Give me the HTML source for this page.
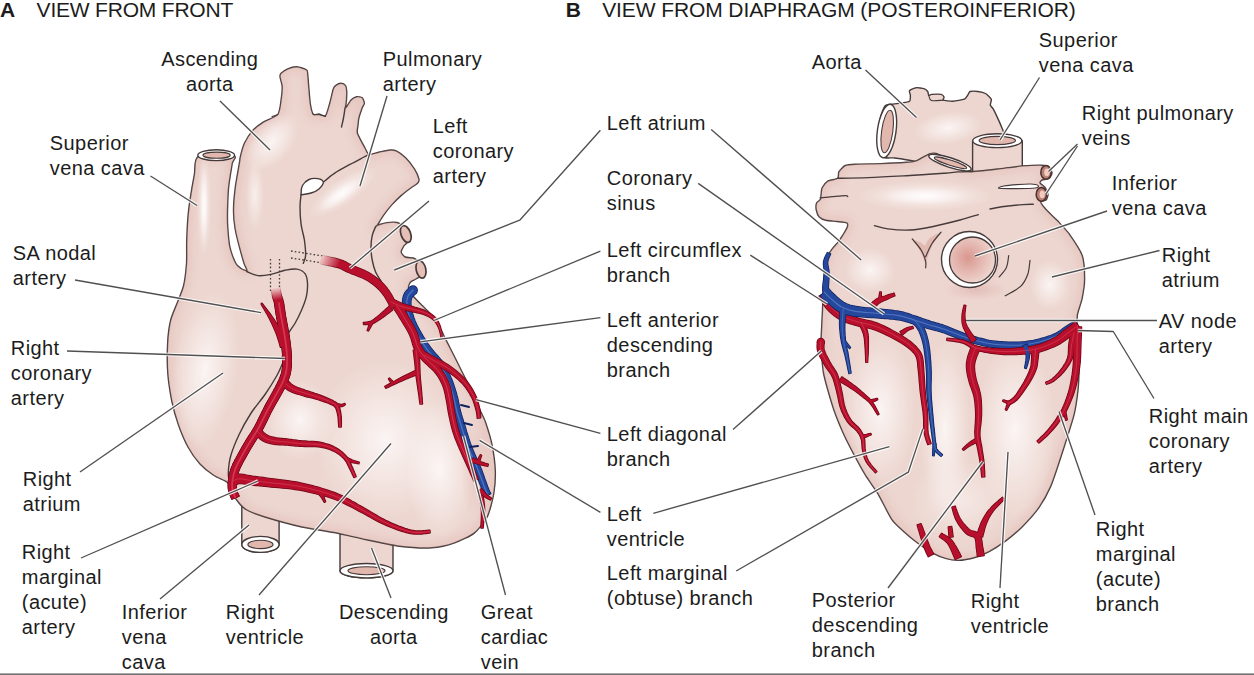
<!DOCTYPE html>
<html><head><meta charset="utf-8"><style>
html,body{margin:0;padding:0;background:#fff;width:1254px;height:675px;overflow:hidden}
svg{display:block}
.t text{font-family:"Liberation Sans",sans-serif;font-size:20px;letter-spacing:0.42px;fill:#1c1c1c}
.t text.b{font-weight:bold}
.t text.h{letter-spacing:-0.2px;font-size:21px}
.t text.b{font-size:21px}
</style></head><body>
<svg width="1254" height="675" viewBox="0 0 1254 675">
<rect x="0" y="673.4" width="1254" height="1.6" fill="#727272"/>
<path d="M241.8,495 L241.8,544.4 A18.6,8.0 0 0 0 279.1,544.4 L279.1,495 Z" fill="#edd6d0" stroke="#463a3a" stroke-width="1.4"/>
<ellipse cx="260.45" cy="544.4" rx="18.6" ry="8.0" fill="#fff" stroke="#463a3a" stroke-width="1.4"/>
<ellipse cx="260.45" cy="544.4" rx="12.6" ry="4.2" fill="#e2b8ae" stroke="#463a3a" stroke-width="1.1"/>
<path d="M340,525 L340,570.7 A26.5,7.2 0 0 0 393,570.7 L393,525 Z" fill="#edd6d0" stroke="#463a3a" stroke-width="1.4"/>
<ellipse cx="366.5" cy="570.7" rx="26.5" ry="7.2" fill="#fff" stroke="#463a3a" stroke-width="1.4"/>
<ellipse cx="366.5" cy="570.7" rx="18.5" ry="4" fill="#e2b8ae" stroke="#463a3a" stroke-width="1.1"/>
<path d="M198.3,156.5 C193.7,158.6 195.3,169.7 194.4,174.4 C193.5,179.1 191.3,191.5 190.5,196.7 C189.7,201.9 188.2,213.7 187.8,218.9 C187.4,224.1 186.9,235.9 186.7,241.1 C186.5,246.3 186.9,258.5 186.5,263.7 C186.1,268.9 184.6,281.5 183.5,286.0 C182.4,290.5 179.0,298.2 177.5,302.2 C176.0,306.2 171.9,315.2 170.7,320.0 C169.5,324.8 167.9,337.5 167.6,343.7 C167.3,349.9 167.3,366.6 167.8,373.3 C168.3,380.0 170.6,395.0 171.8,401.0 C173.0,407.0 176.6,419.6 178.5,425.0 C180.4,430.4 185.5,442.4 188.0,447.0 C190.5,451.6 197.0,460.7 200.0,464.0 C203.0,467.3 210.8,473.4 214.0,475.5 C217.2,477.6 225.1,480.5 227.2,482.2 C229.3,483.9 231.0,488.0 232.0,490.0 C233.0,492.0 234.4,496.7 236.0,499.0 C237.6,501.3 242.6,507.4 246.0,509.5 C249.4,511.6 258.5,515.0 265.0,517.0 C271.5,519.0 293.9,525.2 302.0,527.0 C310.1,528.8 326.5,531.0 334.0,532.5 C341.5,534.0 359.0,538.1 366.6,539.7 C374.2,541.3 391.6,545.3 399.2,546.2 C406.8,547.1 425.3,548.2 431.8,547.8 C438.3,547.4 449.7,544.6 454.6,542.9 C459.5,541.2 470.4,536.1 474.2,533.1 C478.0,530.1 484.9,521.5 487.2,516.9 C489.5,512.3 492.8,499.3 493.7,494.0 C494.6,488.7 495.5,476.9 495.3,471.2 C495.1,465.5 493.2,450.9 492.1,445.2 C491.0,439.5 487.0,426.5 485.6,422.4 C484.2,418.3 481.4,413.3 480.0,410.0 C478.6,406.7 474.9,397.8 473.3,394.4 C471.7,391.0 468.5,384.7 466.7,381.1 C464.9,377.5 459.6,366.9 457.8,363.3 C456.0,359.7 452.7,353.1 451.1,350.0 C449.5,346.9 445.7,339.3 444.4,336.7 C443.1,334.1 441.3,330.1 440.0,327.8 C438.7,325.5 435.4,319.3 433.3,316.7 C431.2,314.1 424.6,308.0 422.2,305.6 C419.8,303.2 414.6,298.1 413.0,296.0 C411.4,293.9 408.8,289.6 408.5,288.0 C408.2,286.4 409.6,283.1 410.5,282.0 C411.4,280.9 414.8,279.7 416.0,279.0 C417.2,278.3 419.8,277.1 420.5,276.0 C421.2,274.9 422.1,271.5 422.0,270.0 C421.9,268.5 420.9,264.3 420.0,263.0 C419.1,261.7 416.1,259.2 414.4,258.5 C412.6,257.8 406.6,257.8 405.0,257.0 C403.4,256.2 401.3,253.2 401.1,252.0 C400.9,250.8 402.8,247.7 403.5,246.5 C404.2,245.3 407.0,243.3 407.5,242.0 C408.0,240.7 407.9,236.8 407.5,235.0 C407.1,233.2 405.2,228.0 404.0,226.5 C402.8,225.0 399.0,223.0 397.0,222.5 C395.0,222.0 389.2,222.3 387.0,222.6 C384.8,222.9 379.3,224.5 378.0,225.0 C376.7,225.5 375.6,226.8 375.6,226.7 C375.6,226.6 376.9,225.7 377.8,224.4 C378.7,223.1 381.6,217.9 383.3,215.6 C385.0,213.3 390.1,206.7 392.2,204.4 C394.3,202.1 398.9,197.5 401.1,195.6 C403.3,193.7 409.2,189.2 411.1,187.8 C413.0,186.4 416.6,184.3 417.5,183.3 C418.4,182.3 419.3,180.7 418.9,179.0 C418.5,177.3 416.0,171.4 414.4,168.9 C412.8,166.4 407.7,159.9 405.6,157.8 C403.5,155.7 398.5,152.0 396.7,151.1 C394.9,150.2 392.1,149.9 390.0,150.0 C387.9,150.1 381.3,151.7 378.9,152.2 C376.4,152.7 370.6,155.0 369.0,154.5 C367.4,154.0 366.3,150.4 365.0,148.0 C363.7,145.6 358.3,136.0 357.5,133.5 C356.7,131.0 357.6,128.5 357.8,126.7 C358.0,124.9 358.4,120.0 358.9,117.8 C359.4,115.6 361.6,109.5 362.2,107.8 C362.8,106.1 364.4,104.5 364.4,103.3 C364.4,102.1 363.1,98.6 362.2,97.8 C361.3,97.0 358.0,96.4 356.7,96.7 C355.4,97.0 352.4,98.7 351.1,100.0 C349.8,101.3 346.1,107.8 345.6,107.8 C345.1,107.8 346.4,101.9 346.5,100.0 C346.6,98.1 346.8,92.8 346.7,91.1 C346.6,89.4 346.3,86.5 345.6,85.6 C344.9,84.7 342.3,83.3 341.1,83.3 C339.9,83.3 336.5,84.9 335.6,85.6 C334.7,86.3 334.0,87.0 333.3,88.9 C332.6,90.8 330.9,99.1 330.0,102.2 C329.1,105.3 326.9,114.2 325.6,115.6 C324.3,117.0 320.4,114.1 319.0,114.0 C317.6,113.9 314.3,115.5 313.3,114.4 C312.3,113.3 310.9,107.4 310.4,104.4 C309.9,101.4 309.2,92.3 308.9,88.9 C308.6,85.5 308.1,77.8 307.8,75.6 C307.5,73.4 308.0,71.0 306.7,70.0 C305.4,69.0 298.9,66.8 296.7,66.7 C294.5,66.6 289.6,68.1 287.8,68.9 C286.0,69.7 282.0,72.4 281.1,73.3 C280.2,74.2 279.9,75.1 280.0,76.7 C280.1,78.3 282.1,84.0 282.2,86.7 C282.3,89.4 281.6,96.8 281.1,100.0 C280.6,103.2 279.9,111.8 277.8,114.4 C275.7,117.0 266.3,120.3 263.3,122.2 C260.3,124.1 254.4,128.6 252.2,131.1 C250.0,133.6 245.8,140.4 244.4,143.3 C243.0,146.2 241.1,153.6 240.5,156.0 C239.9,158.4 239.9,160.0 239.3,163.7 C238.7,167.4 236.0,181.9 235.3,187.4 C234.6,192.9 233.5,206.3 233.5,211.0 C233.5,215.7 234.3,223.8 235.0,228.0 C235.7,232.2 238.2,242.5 239.3,246.6 C240.4,250.7 243.1,260.4 244.0,263.2 C244.9,266.0 247.3,269.9 247.0,270.5 C246.7,271.1 242.3,269.4 241.0,268.5 C239.7,267.6 237.0,265.8 235.7,263.2 C234.4,260.6 230.7,250.7 229.8,246.6 C228.9,242.5 228.1,232.2 227.8,228.0 C227.5,223.8 227.4,215.7 227.5,211.0 C227.6,206.3 228.1,192.9 228.6,187.4 C229.1,181.9 231.6,167.4 232.2,163.7 C232.8,160.0 237.8,156.8 233.8,156.0 C229.8,155.2 202.9,154.4 198.3,156.5Z" fill="#edd6d0" stroke="#463a3a" stroke-width="1.4" stroke-linejoin="round"/>
<defs>
<radialGradient id="hg" cx="50%" cy="50%" r="50%"><stop offset="0" stop-color="#fff" stop-opacity="0.75"/><stop offset="1" stop-color="#fff" stop-opacity="0"/></radialGradient>
<radialGradient id="sh" cx="50%" cy="50%" r="50%"><stop offset="0" stop-color="#d9a8a0" stop-opacity="0.5"/><stop offset="1" stop-color="#d9a8a0" stop-opacity="0"/></radialGradient>
<clipPath id="clipA"><path d="M198.3,156.5 C193.7,158.6 195.3,169.7 194.4,174.4 C193.5,179.1 191.3,191.5 190.5,196.7 C189.7,201.9 188.2,213.7 187.8,218.9 C187.4,224.1 186.9,235.9 186.7,241.1 C186.5,246.3 186.9,258.5 186.5,263.7 C186.1,268.9 184.6,281.5 183.5,286.0 C182.4,290.5 179.0,298.2 177.5,302.2 C176.0,306.2 171.9,315.2 170.7,320.0 C169.5,324.8 167.9,337.5 167.6,343.7 C167.3,349.9 167.3,366.6 167.8,373.3 C168.3,380.0 170.6,395.0 171.8,401.0 C173.0,407.0 176.6,419.6 178.5,425.0 C180.4,430.4 185.5,442.4 188.0,447.0 C190.5,451.6 197.0,460.7 200.0,464.0 C203.0,467.3 210.8,473.4 214.0,475.5 C217.2,477.6 225.1,480.5 227.2,482.2 C229.3,483.9 231.0,488.0 232.0,490.0 C233.0,492.0 234.4,496.7 236.0,499.0 C237.6,501.3 242.6,507.4 246.0,509.5 C249.4,511.6 258.5,515.0 265.0,517.0 C271.5,519.0 293.9,525.2 302.0,527.0 C310.1,528.8 326.5,531.0 334.0,532.5 C341.5,534.0 359.0,538.1 366.6,539.7 C374.2,541.3 391.6,545.3 399.2,546.2 C406.8,547.1 425.3,548.2 431.8,547.8 C438.3,547.4 449.7,544.6 454.6,542.9 C459.5,541.2 470.4,536.1 474.2,533.1 C478.0,530.1 484.9,521.5 487.2,516.9 C489.5,512.3 492.8,499.3 493.7,494.0 C494.6,488.7 495.5,476.9 495.3,471.2 C495.1,465.5 493.2,450.9 492.1,445.2 C491.0,439.5 487.0,426.5 485.6,422.4 C484.2,418.3 481.4,413.3 480.0,410.0 C478.6,406.7 474.9,397.8 473.3,394.4 C471.7,391.0 468.5,384.7 466.7,381.1 C464.9,377.5 459.6,366.9 457.8,363.3 C456.0,359.7 452.7,353.1 451.1,350.0 C449.5,346.9 445.7,339.3 444.4,336.7 C443.1,334.1 441.3,330.1 440.0,327.8 C438.7,325.5 435.4,319.3 433.3,316.7 C431.2,314.1 424.6,308.0 422.2,305.6 C419.8,303.2 414.6,298.1 413.0,296.0 C411.4,293.9 408.8,289.6 408.5,288.0 C408.2,286.4 409.6,283.1 410.5,282.0 C411.4,280.9 414.8,279.7 416.0,279.0 C417.2,278.3 419.8,277.1 420.5,276.0 C421.2,274.9 422.1,271.5 422.0,270.0 C421.9,268.5 420.9,264.3 420.0,263.0 C419.1,261.7 416.1,259.2 414.4,258.5 C412.6,257.8 406.6,257.8 405.0,257.0 C403.4,256.2 401.3,253.2 401.1,252.0 C400.9,250.8 402.8,247.7 403.5,246.5 C404.2,245.3 407.0,243.3 407.5,242.0 C408.0,240.7 407.9,236.8 407.5,235.0 C407.1,233.2 405.2,228.0 404.0,226.5 C402.8,225.0 399.0,223.0 397.0,222.5 C395.0,222.0 389.2,222.3 387.0,222.6 C384.8,222.9 379.3,224.5 378.0,225.0 C376.7,225.5 375.6,226.8 375.6,226.7 C375.6,226.6 376.9,225.7 377.8,224.4 C378.7,223.1 381.6,217.9 383.3,215.6 C385.0,213.3 390.1,206.7 392.2,204.4 C394.3,202.1 398.9,197.5 401.1,195.6 C403.3,193.7 409.2,189.2 411.1,187.8 C413.0,186.4 416.6,184.3 417.5,183.3 C418.4,182.3 419.3,180.7 418.9,179.0 C418.5,177.3 416.0,171.4 414.4,168.9 C412.8,166.4 407.7,159.9 405.6,157.8 C403.5,155.7 398.5,152.0 396.7,151.1 C394.9,150.2 392.1,149.9 390.0,150.0 C387.9,150.1 381.3,151.7 378.9,152.2 C376.4,152.7 370.6,155.0 369.0,154.5 C367.4,154.0 366.3,150.4 365.0,148.0 C363.7,145.6 358.3,136.0 357.5,133.5 C356.7,131.0 357.6,128.5 357.8,126.7 C358.0,124.9 358.4,120.0 358.9,117.8 C359.4,115.6 361.6,109.5 362.2,107.8 C362.8,106.1 364.4,104.5 364.4,103.3 C364.4,102.1 363.1,98.6 362.2,97.8 C361.3,97.0 358.0,96.4 356.7,96.7 C355.4,97.0 352.4,98.7 351.1,100.0 C349.8,101.3 346.1,107.8 345.6,107.8 C345.1,107.8 346.4,101.9 346.5,100.0 C346.6,98.1 346.8,92.8 346.7,91.1 C346.6,89.4 346.3,86.5 345.6,85.6 C344.9,84.7 342.3,83.3 341.1,83.3 C339.9,83.3 336.5,84.9 335.6,85.6 C334.7,86.3 334.0,87.0 333.3,88.9 C332.6,90.8 330.9,99.1 330.0,102.2 C329.1,105.3 326.9,114.2 325.6,115.6 C324.3,117.0 320.4,114.1 319.0,114.0 C317.6,113.9 314.3,115.5 313.3,114.4 C312.3,113.3 310.9,107.4 310.4,104.4 C309.9,101.4 309.2,92.3 308.9,88.9 C308.6,85.5 308.1,77.8 307.8,75.6 C307.5,73.4 308.0,71.0 306.7,70.0 C305.4,69.0 298.9,66.8 296.7,66.7 C294.5,66.6 289.6,68.1 287.8,68.9 C286.0,69.7 282.0,72.4 281.1,73.3 C280.2,74.2 279.9,75.1 280.0,76.7 C280.1,78.3 282.1,84.0 282.2,86.7 C282.3,89.4 281.6,96.8 281.1,100.0 C280.6,103.2 279.9,111.8 277.8,114.4 C275.7,117.0 266.3,120.3 263.3,122.2 C260.3,124.1 254.4,128.6 252.2,131.1 C250.0,133.6 245.8,140.4 244.4,143.3 C243.0,146.2 241.1,153.6 240.5,156.0 C239.9,158.4 239.9,160.0 239.3,163.7 C238.7,167.4 236.0,181.9 235.3,187.4 C234.6,192.9 233.5,206.3 233.5,211.0 C233.5,215.7 234.3,223.8 235.0,228.0 C235.7,232.2 238.2,242.5 239.3,246.6 C240.4,250.7 243.1,260.4 244.0,263.2 C244.9,266.0 247.3,269.9 247.0,270.5 C246.7,271.1 242.3,269.4 241.0,268.5 C239.7,267.6 237.0,265.8 235.7,263.2 C234.4,260.6 230.7,250.7 229.8,246.6 C228.9,242.5 228.1,232.2 227.8,228.0 C227.5,223.8 227.4,215.7 227.5,211.0 C227.6,206.3 228.1,192.9 228.6,187.4 C229.1,181.9 231.6,167.4 232.2,163.7 C232.8,160.0 237.8,156.8 233.8,156.0 C229.8,155.2 202.9,154.4 198.3,156.5Z"/></clipPath>
</defs>
<filter id="blur4" x="-10%" y="-10%" width="120%" height="120%"><feGaussianBlur stdDeviation="4"/></filter>
<g clip-path="url(#clipA)">
<path d="M198.3,156.5 C193.7,158.6 195.3,169.7 194.4,174.4 C193.5,179.1 191.3,191.5 190.5,196.7 C189.7,201.9 188.2,213.7 187.8,218.9 C187.4,224.1 186.9,235.9 186.7,241.1 C186.5,246.3 186.9,258.5 186.5,263.7 C186.1,268.9 184.6,281.5 183.5,286.0 C182.4,290.5 179.0,298.2 177.5,302.2 C176.0,306.2 171.9,315.2 170.7,320.0 C169.5,324.8 167.9,337.5 167.6,343.7 C167.3,349.9 167.3,366.6 167.8,373.3 C168.3,380.0 170.6,395.0 171.8,401.0 C173.0,407.0 176.6,419.6 178.5,425.0 C180.4,430.4 185.5,442.4 188.0,447.0 C190.5,451.6 197.0,460.7 200.0,464.0 C203.0,467.3 210.8,473.4 214.0,475.5 C217.2,477.6 225.1,480.5 227.2,482.2 C229.3,483.9 231.0,488.0 232.0,490.0 C233.0,492.0 234.4,496.7 236.0,499.0 C237.6,501.3 242.6,507.4 246.0,509.5 C249.4,511.6 258.5,515.0 265.0,517.0 C271.5,519.0 293.9,525.2 302.0,527.0 C310.1,528.8 326.5,531.0 334.0,532.5 C341.5,534.0 359.0,538.1 366.6,539.7 C374.2,541.3 391.6,545.3 399.2,546.2 C406.8,547.1 425.3,548.2 431.8,547.8 C438.3,547.4 449.7,544.6 454.6,542.9 C459.5,541.2 470.4,536.1 474.2,533.1 C478.0,530.1 484.9,521.5 487.2,516.9 C489.5,512.3 492.8,499.3 493.7,494.0 C494.6,488.7 495.5,476.9 495.3,471.2 C495.1,465.5 493.2,450.9 492.1,445.2 C491.0,439.5 487.0,426.5 485.6,422.4 C484.2,418.3 481.4,413.3 480.0,410.0 C478.6,406.7 474.9,397.8 473.3,394.4 C471.7,391.0 468.5,384.7 466.7,381.1 C464.9,377.5 459.6,366.9 457.8,363.3 C456.0,359.7 452.7,353.1 451.1,350.0 C449.5,346.9 445.7,339.3 444.4,336.7 C443.1,334.1 441.3,330.1 440.0,327.8 C438.7,325.5 435.4,319.3 433.3,316.7 C431.2,314.1 424.6,308.0 422.2,305.6 C419.8,303.2 414.6,298.1 413.0,296.0 C411.4,293.9 408.8,289.6 408.5,288.0 C408.2,286.4 409.6,283.1 410.5,282.0 C411.4,280.9 414.8,279.7 416.0,279.0 C417.2,278.3 419.8,277.1 420.5,276.0 C421.2,274.9 422.1,271.5 422.0,270.0 C421.9,268.5 420.9,264.3 420.0,263.0 C419.1,261.7 416.1,259.2 414.4,258.5 C412.6,257.8 406.6,257.8 405.0,257.0 C403.4,256.2 401.3,253.2 401.1,252.0 C400.9,250.8 402.8,247.7 403.5,246.5 C404.2,245.3 407.0,243.3 407.5,242.0 C408.0,240.7 407.9,236.8 407.5,235.0 C407.1,233.2 405.2,228.0 404.0,226.5 C402.8,225.0 399.0,223.0 397.0,222.5 C395.0,222.0 389.2,222.3 387.0,222.6 C384.8,222.9 379.3,224.5 378.0,225.0 C376.7,225.5 375.6,226.8 375.6,226.7 C375.6,226.6 376.9,225.7 377.8,224.4 C378.7,223.1 381.6,217.9 383.3,215.6 C385.0,213.3 390.1,206.7 392.2,204.4 C394.3,202.1 398.9,197.5 401.1,195.6 C403.3,193.7 409.2,189.2 411.1,187.8 C413.0,186.4 416.6,184.3 417.5,183.3 C418.4,182.3 419.3,180.7 418.9,179.0 C418.5,177.3 416.0,171.4 414.4,168.9 C412.8,166.4 407.7,159.9 405.6,157.8 C403.5,155.7 398.5,152.0 396.7,151.1 C394.9,150.2 392.1,149.9 390.0,150.0 C387.9,150.1 381.3,151.7 378.9,152.2 C376.4,152.7 370.6,155.0 369.0,154.5 C367.4,154.0 366.3,150.4 365.0,148.0 C363.7,145.6 358.3,136.0 357.5,133.5 C356.7,131.0 357.6,128.5 357.8,126.7 C358.0,124.9 358.4,120.0 358.9,117.8 C359.4,115.6 361.6,109.5 362.2,107.8 C362.8,106.1 364.4,104.5 364.4,103.3 C364.4,102.1 363.1,98.6 362.2,97.8 C361.3,97.0 358.0,96.4 356.7,96.7 C355.4,97.0 352.4,98.7 351.1,100.0 C349.8,101.3 346.1,107.8 345.6,107.8 C345.1,107.8 346.4,101.9 346.5,100.0 C346.6,98.1 346.8,92.8 346.7,91.1 C346.6,89.4 346.3,86.5 345.6,85.6 C344.9,84.7 342.3,83.3 341.1,83.3 C339.9,83.3 336.5,84.9 335.6,85.6 C334.7,86.3 334.0,87.0 333.3,88.9 C332.6,90.8 330.9,99.1 330.0,102.2 C329.1,105.3 326.9,114.2 325.6,115.6 C324.3,117.0 320.4,114.1 319.0,114.0 C317.6,113.9 314.3,115.5 313.3,114.4 C312.3,113.3 310.9,107.4 310.4,104.4 C309.9,101.4 309.2,92.3 308.9,88.9 C308.6,85.5 308.1,77.8 307.8,75.6 C307.5,73.4 308.0,71.0 306.7,70.0 C305.4,69.0 298.9,66.8 296.7,66.7 C294.5,66.6 289.6,68.1 287.8,68.9 C286.0,69.7 282.0,72.4 281.1,73.3 C280.2,74.2 279.9,75.1 280.0,76.7 C280.1,78.3 282.1,84.0 282.2,86.7 C282.3,89.4 281.6,96.8 281.1,100.0 C280.6,103.2 279.9,111.8 277.8,114.4 C275.7,117.0 266.3,120.3 263.3,122.2 C260.3,124.1 254.4,128.6 252.2,131.1 C250.0,133.6 245.8,140.4 244.4,143.3 C243.0,146.2 241.1,153.6 240.5,156.0 C239.9,158.4 239.9,160.0 239.3,163.7 C238.7,167.4 236.0,181.9 235.3,187.4 C234.6,192.9 233.5,206.3 233.5,211.0 C233.5,215.7 234.3,223.8 235.0,228.0 C235.7,232.2 238.2,242.5 239.3,246.6 C240.4,250.7 243.1,260.4 244.0,263.2 C244.9,266.0 247.3,269.9 247.0,270.5 C246.7,271.1 242.3,269.4 241.0,268.5 C239.7,267.6 237.0,265.8 235.7,263.2 C234.4,260.6 230.7,250.7 229.8,246.6 C228.9,242.5 228.1,232.2 227.8,228.0 C227.5,223.8 227.4,215.7 227.5,211.0 C227.6,206.3 228.1,192.9 228.6,187.4 C229.1,181.9 231.6,167.4 232.2,163.7 C232.8,160.0 237.8,156.8 233.8,156.0 C229.8,155.2 202.9,154.4 198.3,156.5Z" fill="none" stroke="#d8a69e" stroke-width="10" opacity="0.3" filter="url(#blur4)"/>
<ellipse cx="272" cy="142" rx="20" ry="34" fill="url(#hg)" transform="rotate(40 272 142)"/>
<ellipse cx="255" cy="195" rx="9" ry="35" fill="url(#hg)" opacity="0.8"/>
<ellipse cx="204" cy="205" rx="7" ry="52" fill="url(#hg)"/>
<ellipse cx="204" cy="205" rx="4" ry="40" fill="url(#hg)"/>
<ellipse cx="343" cy="192" rx="13" ry="40" fill="url(#hg)" transform="rotate(55 343 192)"/>
<ellipse cx="340" cy="195" rx="8" ry="26" fill="url(#hg)" transform="rotate(55 340 195)"/>
<ellipse cx="205" cy="370" rx="32" ry="80" fill="url(#hg)" transform="rotate(8 205 370)"/>
<ellipse cx="385" cy="440" rx="70" ry="80" fill="url(#hg)"/>
<ellipse cx="300" cy="420" rx="35" ry="40" fill="url(#hg)"/>
<ellipse cx="440" cy="470" rx="35" ry="70" fill="url(#hg)"/>
<ellipse cx="478" cy="470" rx="18" ry="50" fill="url(#sh)" opacity="0.6"/>
</g>
<ellipse cx="216.2" cy="155.2" rx="18.4" ry="5.4" fill="#fff" stroke="#463a3a" stroke-width="1.4"/>
<ellipse cx="216.6" cy="155.2" rx="13.6" ry="3.1" fill="#e2b8ae" stroke="#463a3a" stroke-width="1.1"/>
<path d="M369.0,154.5 C368.2,154.9 367.2,155.3 364.0,157.0 C360.8,158.7 354.9,161.7 350.0,164.4 C345.1,167.1 338.8,170.3 334.4,173.3 C329.9,176.3 325.1,180.7 323.3,182.2" fill="none" stroke="#463a3a" stroke-width="1.4" stroke-linecap="round" />
<path d="M301.1,194.0 C301.0,192.5 301.2,187.9 302.5,185.5 C303.8,183.1 306.4,180.7 309.0,179.5 C311.6,178.3 315.4,178.2 317.8,178.6 C320.2,179.0 323.1,180.5 323.3,182.2 C323.5,183.9 321.0,187.1 319.0,188.9 C317.0,190.7 313.8,192.1 311.1,193.0 C308.4,193.9 304.7,194.3 303.0,194.5 C301.3,194.7 301.2,195.5 301.1,194.0Z" fill="#fff" stroke="#463a3a" stroke-width="1.4" stroke-linejoin="round" />
<path d="M301.1,194.4 C300.9,196.4 300.0,201.7 300.0,206.7 C300.0,211.7 300.4,218.8 301.1,224.4 C301.8,230.0 303.6,234.8 304.4,240.0 C305.1,245.2 305.8,251.7 305.6,255.6 C305.4,259.5 303.7,262.0 303.3,263.3" fill="none" stroke="#463a3a" stroke-width="1.4" stroke-linecap="round" />
<path d="M246.7,271.5 C248.5,272.2 253.8,275.1 257.8,275.6 C261.8,276.1 266.3,275.3 270.8,274.4 C275.3,273.5 280.6,271.2 285.0,270.3 C289.4,269.4 293.5,268.5 296.9,269.1 C300.3,269.7 303.4,271.4 305.2,273.8 C307.0,276.2 307.3,279.5 307.5,283.3 C307.7,287.1 307.4,291.9 306.4,296.4 C305.4,300.8 303.5,305.6 301.6,310.0 C299.7,314.4 297.8,318.4 295.2,323.0 C292.6,327.6 288.5,331.9 286.3,337.8 C284.1,343.7 282.7,355.1 282.0,358.5" fill="none" stroke="#463a3a" stroke-width="1.4" stroke-linecap="round" />
<path d="M284.0,360.0 C282.8,362.6 280.1,369.8 276.9,375.5 C273.7,381.2 269.4,388.2 265.0,394.5 C260.6,400.8 255.1,406.8 250.8,413.5 C246.5,420.2 242.3,427.7 239.0,434.8 C235.7,441.9 232.5,449.7 230.7,456.0 C228.9,462.3 228.5,468.3 228.3,472.7 C228.1,477.1 229.3,480.6 229.5,482.2" fill="none" stroke="#463a3a" stroke-width="1.4" stroke-linecap="round" />
<path d="M345.0,108.0 C344.8,109.7 344.1,114.8 343.5,118.0 C342.9,121.2 341.8,125.5 341.5,127.0" fill="none" stroke="#463a3a" stroke-width="1.4" stroke-linecap="round" />
<path d="M313.3,114.4 C314.3,114.5 317.4,114.5 319.5,114.8 C321.6,115.1 324.6,116.2 325.6,116.5" fill="none" stroke="#463a3a" stroke-width="1.1" stroke-linecap="round" />
<path d="M277.8,114.4 C276.8,114.8 273.0,116.2 272.0,116.5" fill="none" stroke="#463a3a" stroke-width="1.1" stroke-linecap="round" />
<path d="M375.6,226.7 C375.0,228.2 373.0,232.2 372.2,235.6 C371.4,239.0 371.0,242.9 371.0,247.0 C371.0,251.1 371.4,255.8 372.2,260.0 C373.0,264.2 374.1,268.5 375.6,272.0 C377.1,275.5 380.1,279.5 381.0,281.0" fill="none" stroke="#463a3a" stroke-width="1.4" stroke-linecap="round" />
<ellipse cx="405.8" cy="234" rx="4.8" ry="8.8" fill="#e6c0b6" stroke="#463a3a" stroke-width="1.7" transform="rotate(-20 405.8 234)"/>
<ellipse cx="421" cy="269.5" rx="4.8" ry="8.8" fill="#e6c0b6" stroke="#463a3a" stroke-width="1.7" transform="rotate(-12 421 269.5)"/>
<line x1="291" y1="251" x2="323" y2="256" stroke="#463a3a" stroke-width="1.3" stroke-dasharray="1.6 2.2"/>
<line x1="291" y1="258" x2="323" y2="263" stroke="#463a3a" stroke-width="1.3" stroke-dasharray="1.6 2.2"/>
<line x1="270.5" y1="259" x2="270.5" y2="292" stroke="#463a3a" stroke-width="1.3" stroke-dasharray="1.6 2.2"/>
<line x1="279.5" y1="259" x2="279.5" y2="292" stroke="#463a3a" stroke-width="1.3" stroke-dasharray="1.6 2.2"/>
<defs><path id="a1" d="M410.0,287.4 409.7,287.7 409.2,288.1 408.5,288.8 407.7,289.6 406.7,290.5 405.8,291.6 404.9,292.9 404.2,294.3 403.7,295.6 403.3,296.8 403.0,298.1 402.8,299.5 402.6,301.0 402.6,302.5 402.6,304.1 402.7,305.8 403.0,307.6 403.3,309.5 403.7,311.5 404.2,313.5 404.7,315.6 405.3,317.8 406.0,319.9 406.7,321.9 407.5,323.9 408.4,325.9 409.4,327.9 410.4,329.9 411.4,331.8 412.5,333.7 413.6,335.7 414.7,337.6 415.9,339.5 417.1,341.5 418.3,343.4 419.6,345.3 420.9,347.3 422.3,349.2 423.7,351.2 425.1,353.1 426.7,355.1 428.4,357.1 430.1,359.0 431.8,360.9 433.5,362.7 435.0,364.5 436.5,366.3 437.7,368.0 438.8,369.7 439.8,371.5 440.8,373.2 441.7,375.0 442.5,376.8 443.3,378.7 444.1,380.5 444.9,382.4 445.7,384.2 446.4,386.0 447.0,387.8 447.7,389.6 448.3,391.5 448.8,393.3 449.4,395.2 450.0,397.0 450.5,398.9 450.9,400.9 451.4,402.9 451.8,404.9 452.2,406.9 452.7,409.0 453.1,410.9 453.6,412.9 454.1,414.6 454.6,416.2 455.0,417.7 455.5,419.2 456.0,420.7 456.5,422.3 457.1,424.0 457.7,426.0 458.5,428.3 459.2,430.8 460.1,433.5 461.0,436.3 461.9,439.2 462.9,442.2 463.9,445.1 464.9,447.9 466.0,450.6 467.2,453.4 468.4,456.1 469.6,458.7 470.9,461.4 472.1,464.0 473.2,466.6 474.4,469.2 475.4,471.9 476.6,474.8 477.7,477.8 478.8,480.7 479.8,483.5 480.8,486.1 481.7,488.5 482.4,490.4 483.1,492.0 483.6,493.2 484.1,494.2 484.5,494.9 484.8,495.5 485.0,495.9 485.2,496.1 485.3,496.4 490.7,493.6 490.5,493.2 490.3,492.8 490.1,492.5 489.8,492.1 489.6,491.5 489.2,490.7 488.7,489.6 488.2,488.2 487.4,486.3 486.6,484.0 485.7,481.4 484.6,478.6 483.6,475.6 482.5,472.6 481.4,469.6 480.2,466.8 479.1,464.1 477.9,461.4 476.7,458.7 475.5,456.0 474.3,453.4 473.2,450.7 472.1,448.1 471.1,445.5 470.1,442.8 469.2,440.0 468.3,437.2 467.4,434.3 466.5,431.5 465.7,428.8 465.0,426.3 464.3,424.0 463.6,421.9 463.1,420.1 462.5,418.6 462.1,417.1 461.7,415.7 461.2,414.3 460.8,412.8 460.4,411.1 459.9,409.3 459.5,407.5 459.1,405.5 458.7,403.5 458.3,401.4 457.9,399.3 457.4,397.2 456.8,395.2 456.3,393.2 455.7,391.2 455.1,389.3 454.5,387.4 453.9,385.4 453.2,383.5 452.5,381.5 451.7,379.6 450.9,377.7 450.1,375.8 449.2,373.8 448.4,371.9 447.4,369.9 446.3,367.9 445.2,365.9 443.9,363.8 442.4,361.8 440.9,359.7 439.2,357.8 437.5,355.8 435.8,353.9 434.2,352.1 432.7,350.3 431.3,348.5 429.9,346.6 428.6,344.8 427.3,342.9 426.1,341.1 424.9,339.2 423.7,337.3 422.6,335.5 421.5,333.6 420.4,331.7 419.4,329.9 418.4,328.0 417.4,326.2 416.5,324.4 415.7,322.6 414.9,320.8 414.3,319.1 413.6,317.3 413.1,315.4 412.5,313.5 412.0,311.6 411.6,309.8 411.3,308.0 411.0,306.4 410.9,305.0 410.8,303.7 410.8,302.6 410.8,301.6 410.9,300.7 411.1,299.9 411.3,299.1 411.5,298.3 411.8,297.7 412.0,297.2 412.4,296.7 412.9,296.1 413.5,295.5 414.2,294.9 414.8,294.3 415.5,293.7 416.0,293.2Z"/></defs>
<use href="#a1" fill="#0f2260" stroke="#0f2260" stroke-width="1.5" stroke-linejoin="round"/>
<circle cx="413" cy="290.3" r="4.19" fill="#0f2260" stroke="#0f2260" stroke-width="1.5"/>
<use href="#a1" fill="#25489c"/>
<circle cx="413" cy="290.3" r="4.19" fill="#25489c"/>
<path d="M413.0,290.3 C412.2,291.2 409.0,293.5 408.0,296.0 C407.0,298.5 406.4,301.3 406.8,305.4 C407.2,309.5 408.6,315.5 410.5,320.5 C412.4,325.5 415.2,330.6 418.1,335.6 C421.1,340.7 424.4,345.8 428.2,350.8 C432.0,355.9 437.4,360.9 440.8,365.9 C444.2,370.9 446.2,376.0 448.3,381.0 C450.4,386.0 451.9,390.9 453.4,396.1 C454.8,401.3 455.7,407.2 457.0,412.0 C458.3,416.8 459.2,419.2 461.0,425.0 C462.8,430.8 465.3,439.5 468.0,446.7 C470.7,453.9 474.4,460.9 477.3,468.0 C480.2,475.1 483.5,484.8 485.3,489.3 C487.1,493.8 487.6,494.1 488.0,495.0" fill="none" stroke="#5f86cf" stroke-width="1.3" stroke-linecap="round" opacity="0.7"/>
<line x1="461" y1="405" x2="469" y2="407" stroke="#0f2260" stroke-width="2" stroke-linecap="round"/>
<line x1="464" y1="423" x2="472" y2="425" stroke="#0f2260" stroke-width="2" stroke-linecap="round"/>
<line x1="470" y1="447" x2="478" y2="446" stroke="#0f2260" stroke-width="2" stroke-linecap="round"/>
<defs><linearGradient id="lcag" x1="321" y1="256" x2="340" y2="263" gradientUnits="userSpaceOnUse"><stop offset="0" stop-color="#f0d0cc"/><stop offset="1" stop-color="#b8102c"/></linearGradient><linearGradient id="lcao" x1="321" y1="256" x2="336" y2="262" gradientUnits="userSpaceOnUse"><stop offset="0" stop-color="#6a0515" stop-opacity="0"/><stop offset="1" stop-color="#6a0515"/></linearGradient><linearGradient id="rcao" x1="275" y1="288" x2="277" y2="298" gradientUnits="userSpaceOnUse"><stop offset="0" stop-color="#6a0515" stop-opacity="0"/><stop offset="1" stop-color="#6a0515"/></linearGradient>
<linearGradient id="rcag" x1="275" y1="288" x2="277" y2="300" gradientUnits="userSpaceOnUse"><stop offset="0" stop-color="#f0d0cc"/><stop offset="1" stop-color="#b8102c"/></linearGradient></defs>
<defs><path id="a2" d="M320.1,263.6 321.6,264.0 323.7,264.4 326.3,264.9 329.0,265.5 331.8,266.1 334.5,266.7 336.9,267.3 338.8,267.8 340.2,268.3 341.2,268.7 342.0,269.1 342.7,269.5 343.6,270.0 344.7,270.6 346.0,271.3 347.7,272.1 349.7,272.9 351.8,273.7 354.2,274.6 356.6,275.5 359.0,276.5 361.3,277.4 363.4,278.4 365.3,279.3 366.9,280.2 368.5,281.1 370.0,282.1 371.4,283.1 372.8,284.1 374.1,285.1 375.4,286.1 376.5,287.1 377.6,288.1 378.6,289.1 379.5,290.1 380.4,291.1 381.2,292.1 382.0,293.1 382.8,294.1 383.5,295.0 384.2,295.9 384.8,296.8 385.3,297.6 385.8,298.5 386.3,299.3 386.8,300.2 387.3,301.1 387.8,302.0 388.3,302.9 388.7,303.8 389.2,304.7 389.7,305.6 390.1,306.5 390.5,307.3 390.8,307.9 391.1,308.4 396.9,305.6 396.7,305.1 396.4,304.4 396.0,303.6 395.6,302.7 395.1,301.8 394.6,300.8 394.1,299.8 393.6,298.8 393.2,297.9 392.7,297.0 392.2,296.1 391.7,295.2 391.1,294.2 390.5,293.1 389.8,292.1 389.1,291.0 388.3,289.9 387.5,288.9 386.7,287.7 385.7,286.6 384.7,285.4 383.7,284.2 382.5,283.0 381.3,281.9 380.0,280.7 378.6,279.6 377.2,278.4 375.7,277.3 374.1,276.1 372.5,275.0 370.7,273.8 368.7,272.7 366.6,271.6 364.3,270.5 361.9,269.5 359.4,268.5 357.0,267.5 354.7,266.5 352.6,265.7 350.9,264.9 349.6,264.3 348.5,263.7 347.6,263.2 346.7,262.6 345.7,262.0 344.4,261.4 343.0,260.8 341.2,260.2 339.0,259.5 336.5,258.8 333.7,258.1 330.8,257.4 328.1,256.8 325.5,256.2 323.4,255.7 321.9,255.4Z"/><path id="a3" d="M389.6,305.2 390.3,305.5 391.3,305.9 392.6,306.4 394.0,307.0 395.5,307.6 397.0,308.1 398.6,308.7 400.1,309.2 401.7,309.6 403.2,309.9 404.8,310.2 406.3,310.5 407.9,310.8 409.4,311.1 410.9,311.4 412.4,311.7 413.9,312.0 415.5,312.3 417.0,312.7 418.5,313.0 420.0,313.3 421.4,313.7 422.8,314.1 424.1,314.5 425.3,315.0 426.5,315.5 427.7,316.1 428.8,316.7 429.9,317.3 430.9,317.9 431.9,318.6 432.7,319.2 433.5,319.8 434.1,320.4 434.7,321.1 435.2,321.7 435.7,322.4 436.2,323.1 436.6,323.9 437.1,324.6 437.5,325.4 437.9,326.2 438.3,327.0 438.7,327.9 439.0,328.7 439.3,329.6 439.6,330.4 439.8,331.2 440.0,332.0 440.2,332.8 440.4,333.7 440.6,334.5 440.7,335.3 440.8,336.0 440.9,336.6 441.0,337.1 442.0,336.9 442.0,336.5 442.0,335.9 441.9,335.2 441.9,334.4 441.8,333.5 441.7,332.6 441.6,331.7 441.4,330.8 441.2,329.9 441.0,329.1 440.7,328.2 440.5,327.2 440.2,326.3 439.9,325.4 439.5,324.5 439.1,323.6 438.7,322.7 438.3,321.9 437.9,321.1 437.4,320.3 436.8,319.4 436.2,318.6 435.5,317.8 434.7,317.0 433.8,316.2 432.8,315.4 431.7,314.6 430.6,313.8 429.4,313.0 428.2,312.3 426.9,311.6 425.5,310.9 424.1,310.3 422.7,309.7 421.2,309.2 419.7,308.7 418.1,308.3 416.6,307.8 415.1,307.4 413.6,306.9 412.1,306.4 410.6,306.0 409.1,305.6 407.6,305.2 406.1,304.8 404.7,304.3 403.3,303.9 402.1,303.4 400.8,302.9 399.4,302.3 398.0,301.6 396.7,301.0 395.4,300.3 394.2,299.7 393.2,299.2 392.4,298.8Z"/><path id="a4" d="M393.6,308.2 394.0,308.9 394.6,309.7 395.3,310.7 396.0,311.8 396.8,313.1 397.7,314.4 398.6,315.9 399.6,317.5 400.7,319.4 402.0,321.4 403.3,323.6 404.7,325.9 406.1,328.2 407.4,330.5 408.6,332.7 409.6,334.7 410.3,336.5 411.0,338.3 411.5,340.1 412.1,342.0 412.6,343.9 413.2,345.8 413.9,347.7 414.7,349.6 415.6,351.3 416.5,352.8 417.5,354.2 418.5,355.5 419.5,356.7 420.6,358.0 421.7,359.3 423.0,360.7 424.5,362.2 426.1,363.8 427.8,365.3 429.5,366.9 431.2,368.4 432.8,370.0 434.3,371.5 435.5,373.0 436.7,374.5 437.8,376.1 438.8,377.7 439.8,379.4 440.7,381.1 441.5,382.7 442.3,384.5 443.0,386.1 443.6,387.8 444.1,389.5 444.6,391.3 445.0,393.1 445.4,394.9 445.7,396.8 446.1,398.7 446.5,400.6 446.8,402.4 447.1,404.2 447.4,406.0 447.7,407.8 448.0,409.7 448.3,411.6 448.7,413.6 449.1,415.6 449.5,417.6 450.0,419.7 450.4,421.8 450.9,423.9 451.4,426.1 452.0,428.4 452.6,430.6 453.3,432.8 454.1,435.1 454.9,437.4 455.8,439.8 456.8,442.1 457.7,444.4 458.7,446.6 459.6,448.9 460.6,451.0 461.5,453.1 462.4,455.2 463.3,457.3 464.2,459.3 465.1,461.3 466.0,463.2 466.9,465.1 467.7,467.0 468.6,468.9 469.5,470.9 470.3,473.0 471.2,475.0 472.0,476.8 472.8,478.5 473.4,479.9 473.8,480.9 478.2,479.1 477.7,478.0 477.1,476.6 476.4,474.9 475.7,473.0 474.8,471.1 474.0,469.0 473.1,467.0 472.3,465.0 471.5,463.1 470.6,461.2 469.8,459.2 468.9,457.2 468.0,455.2 467.2,453.2 466.3,451.1 465.4,449.0 464.6,446.8 463.7,444.6 462.7,442.3 461.8,440.0 461.0,437.8 460.1,435.5 459.4,433.3 458.7,431.2 458.1,429.0 457.5,426.9 457.0,424.8 456.5,422.7 456.1,420.6 455.7,418.5 455.3,416.4 454.9,414.4 454.6,412.5 454.3,410.6 454.0,408.8 453.7,406.9 453.5,405.1 453.2,403.2 452.9,401.3 452.5,399.4 452.2,397.5 451.9,395.7 451.5,393.8 451.2,391.8 450.8,389.8 450.3,387.8 449.7,385.8 449.0,383.9 448.3,381.9 447.4,380.0 446.5,378.1 445.6,376.2 444.5,374.3 443.4,372.5 442.2,370.7 440.9,368.8 439.4,367.0 437.7,365.2 436.0,363.5 434.2,361.8 432.5,360.2 430.9,358.7 429.5,357.3 428.2,355.9 427.1,354.6 426.0,353.3 425.0,352.2 424.2,351.1 423.4,350.0 422.7,348.9 422.0,347.7 421.3,346.4 420.7,345.0 420.2,343.5 419.7,341.9 419.2,340.0 418.7,338.1 418.1,336.0 417.4,333.8 416.4,331.5 415.3,329.2 414.1,326.9 412.8,324.4 411.4,322.0 410.0,319.6 408.7,317.4 407.5,315.3 406.4,313.5 405.4,311.8 404.5,310.2 403.6,308.8 402.7,307.5 402.0,306.3 401.4,305.3 400.8,304.5 400.4,303.8Z"/><path id="a5" d="M422.3,357.9 422.9,358.2 423.6,358.6 424.4,359.1 425.4,359.6 426.4,360.2 427.6,360.8 429.0,361.5 430.5,362.3 432.2,363.2 434.1,364.1 436.2,365.1 438.3,366.1 440.5,367.2 442.7,368.4 444.7,369.5 446.7,370.8 448.7,372.1 450.6,373.4 452.6,374.9 454.6,376.4 456.4,377.9 458.3,379.5 460.0,381.1 461.6,382.7 463.1,384.3 464.5,386.1 465.9,387.9 467.2,389.7 468.4,391.6 469.6,393.4 470.6,395.3 471.6,397.0 472.4,398.8 473.2,400.5 473.8,402.3 474.4,404.1 474.9,405.8 475.4,407.4 475.8,409.0 476.2,410.4 476.5,411.7 476.7,412.9 476.9,414.0 477.0,415.0 477.1,416.0 477.2,416.8 477.3,417.6 477.3,418.2 480.7,417.8 480.6,417.3 480.6,416.6 480.6,415.7 480.5,414.7 480.4,413.6 480.3,412.3 480.1,411.0 479.8,409.6 479.5,408.1 479.1,406.5 478.7,404.8 478.2,402.9 477.7,401.0 477.0,399.1 476.3,397.1 475.4,395.2 474.4,393.2 473.4,391.3 472.3,389.2 471.0,387.2 469.7,385.2 468.3,383.2 466.8,381.2 465.2,379.3 463.5,377.5 461.7,375.7 459.9,374.0 457.9,372.3 455.9,370.6 453.9,369.0 451.9,367.5 449.9,366.0 447.8,364.6 445.6,363.3 443.3,362.0 441.1,360.7 438.9,359.6 436.9,358.5 435.1,357.6 433.5,356.7 432.1,355.9 430.8,355.1 429.7,354.4 428.6,353.8 427.7,353.3 426.9,352.8 426.2,352.4 425.7,352.1Z"/><path id="a6" d="M413.3,350.3 413.4,351.2 413.6,352.4 413.8,353.8 414.0,355.4 414.2,357.1 414.4,358.8 414.6,360.5 414.8,362.2 415.0,363.8 415.1,365.4 415.3,367.1 415.4,368.9 415.6,370.6 415.7,372.4 415.9,374.3 416.1,376.2 416.4,378.1 416.7,380.2 417.0,382.2 417.3,384.3 417.6,386.4 417.9,388.4 418.2,390.4 418.5,392.2 418.7,393.9 419.0,395.7 419.2,397.5 419.4,399.1 419.6,400.7 419.8,402.1 420.0,403.2 420.1,404.1 422.5,403.9 422.4,403.0 422.3,401.8 422.2,400.4 422.1,398.9 422.0,397.2 421.8,395.4 421.7,393.6 421.5,391.8 421.4,390.0 421.2,388.0 421.0,386.0 420.8,383.9 420.6,381.8 420.4,379.7 420.2,377.7 420.1,375.8 420.0,374.0 419.9,372.2 419.8,370.4 419.8,368.6 419.7,366.9 419.7,365.2 419.6,363.5 419.6,361.8 419.5,360.1 419.3,358.3 419.2,356.6 419.1,354.9 419.0,353.3 418.8,351.8 418.8,350.6 418.7,349.7Z"/><path id="a7" d="M416.6,370.0 415.5,370.5 414.1,371.2 412.5,372.0 410.6,372.9 408.5,373.9 406.4,374.9 404.3,376.0 402.3,377.0 400.1,378.1 397.7,379.4 395.2,380.8 392.7,382.1 390.2,383.5 388.0,384.7 386.2,385.7 384.8,386.4 385.8,388.2 387.2,387.6 389.1,386.7 391.3,385.6 393.8,384.5 396.4,383.3 399.0,382.1 401.5,381.0 403.7,380.0 405.8,379.1 407.9,378.2 410.1,377.3 412.1,376.5 414.1,375.7 415.8,375.0 417.3,374.4 418.4,374.0Z"/><path id="a8" d="M394.1,382.7 393.7,382.3 393.1,381.7 392.5,381.1 391.8,380.4 391.1,379.7 390.4,379.0 389.9,378.5 389.5,378.1 388.5,378.9 388.8,379.4 389.2,380.0 389.7,380.8 390.2,381.6 390.7,382.5 391.2,383.2 391.7,383.9 391.9,384.3Z"/><path id="a9" d="M389.4,306.0 388.6,306.8 387.5,307.8 386.2,308.9 384.8,310.2 383.3,311.6 381.9,312.9 380.5,314.1 379.2,315.2 378.1,316.1 377.0,317.0 375.9,317.9 374.9,318.7 373.9,319.5 372.9,320.1 371.9,320.7 371.0,321.2 370.1,321.6 369.0,321.8 367.9,322.0 366.9,322.2 365.8,322.3 364.9,322.4 364.1,322.4 363.4,322.5 363.6,324.5 364.2,324.5 364.9,324.5 365.9,324.5 367.0,324.5 368.2,324.5 369.5,324.4 370.8,324.2 372.0,323.8 373.2,323.3 374.4,322.8 375.5,322.1 376.7,321.4 377.9,320.7 379.1,319.9 380.3,319.1 381.6,318.2 382.9,317.3 384.5,316.1 386.1,314.9 387.7,313.7 389.2,312.6 390.6,311.5 391.8,310.6 392.6,310.0Z"/><path id="a10" d="M370.1,321.9 369.9,322.6 369.5,323.6 369.1,324.8 368.7,326.2 368.2,327.5 367.8,328.7 367.4,329.7 367.2,330.4 368.4,331.0 368.8,330.3 369.3,329.4 369.9,328.3 370.6,327.0 371.3,325.8 372.0,324.7 372.5,323.8 372.9,323.1Z"/><path id="a11" d="M471.3,461.9 471.9,462.1 472.7,462.4 473.7,462.7 474.9,463.0 476.0,463.4 477.2,463.8 478.4,464.1 479.5,464.4 480.6,464.7 481.8,465.0 483.0,465.3 484.2,465.5 485.3,465.8 486.3,466.0 487.1,466.1 487.7,466.3 488.3,464.3 487.7,464.1 486.9,463.8 485.9,463.5 484.8,463.2 483.7,462.8 482.6,462.4 481.5,462.0 480.5,461.6 479.5,461.1 478.4,460.7 477.3,460.2 476.1,459.7 475.1,459.2 474.1,458.8 473.3,458.4 472.7,458.1Z"/><path id="a12" d="M479.2,462.5 479.4,461.9 479.7,461.1 480.1,460.0 480.4,458.9 480.8,457.8 481.1,456.7 481.4,455.9 481.6,455.3 480.4,454.7 480.1,455.3 479.6,456.1 479.1,457.1 478.6,458.1 478.0,459.1 477.5,460.1 477.1,460.9 476.8,461.5Z"/><path id="a13" d="M478.5,491.4 479.0,491.9 479.7,492.5 480.5,493.2 481.4,494.0 482.4,494.9 483.3,495.7 484.3,496.5 485.1,497.1 485.9,497.6 486.7,498.1 487.5,498.5 488.3,498.9 489.0,499.2 489.6,499.5 490.1,499.7 490.5,499.9 491.5,498.1 491.1,497.9 490.6,497.6 490.1,497.2 489.4,496.8 488.8,496.4 488.1,495.9 487.5,495.4 486.9,494.9 486.3,494.2 485.5,493.4 484.7,492.5 483.9,491.6 483.2,490.7 482.5,489.8 481.9,489.1 481.5,488.6Z"/><path id="a14" d="M479.0,496.3 479.2,497.4 479.5,498.8 479.9,500.4 480.3,502.2 480.6,504.1 481.0,506.1 481.2,508.1 481.4,510.0 481.5,512.2 481.5,514.6 481.5,517.2 481.4,519.8 481.2,522.3 481.1,524.6 481.0,526.5 481.0,527.9 483.0,528.1 483.2,526.7 483.4,524.8 483.6,522.5 483.9,520.0 484.2,517.3 484.4,514.7 484.5,512.2 484.6,510.0 484.5,507.8 484.4,505.7 484.1,503.6 483.9,501.6 483.6,499.7 483.3,498.1 483.1,496.7 483.0,495.7Z"/><path id="a15" d="M271.2,288.8 271.3,289.4 271.4,290.2 271.6,291.2 271.8,292.3 272.0,293.5 272.3,294.7 272.5,295.9 272.7,297.0 273.0,298.0 273.3,299.0 273.6,299.8 273.8,300.6 274.1,301.3 274.3,302.0 274.5,302.9 274.7,303.9 275.0,305.0 275.2,306.3 275.4,307.7 275.6,309.2 275.8,310.8 276.1,312.6 276.4,314.6 276.8,316.7 277.2,319.1 277.7,321.8 278.2,324.6 278.8,327.5 279.4,330.4 279.9,333.3 280.4,336.1 280.8,338.6 281.2,341.1 281.5,343.4 281.8,345.7 282.1,348.0 282.4,350.1 282.6,352.2 282.7,354.2 282.9,356.2 282.9,358.1 283.0,359.9 283.0,361.7 282.9,363.3 282.9,365.0 282.8,366.5 282.6,368.0 282.4,369.4 282.2,370.7 282.0,371.9 281.8,372.9 281.5,374.0 281.1,375.0 280.8,376.1 280.3,377.2 279.8,378.5 279.3,379.7 278.8,380.9 278.2,382.2 277.5,383.5 276.8,384.9 276.0,386.4 275.2,388.0 274.3,389.7 273.3,391.5 272.2,393.5 271.0,395.6 269.8,397.8 268.5,400.1 267.2,402.4 265.9,404.7 264.7,407.1 263.5,409.5 262.2,411.9 261.0,414.4 259.8,416.9 258.6,419.4 257.4,421.8 256.2,424.1 255.1,426.3 253.9,428.3 252.7,430.3 251.5,432.3 250.3,434.1 249.1,436.0 247.9,437.9 246.7,439.7 245.6,441.6 244.5,443.4 243.5,445.2 242.4,447.0 241.5,448.7 240.5,450.4 239.6,452.0 238.7,453.7 237.8,455.3 237.0,456.8 236.2,458.3 235.4,459.7 234.6,461.2 233.9,462.7 233.1,464.2 232.5,465.7 231.8,467.2 231.3,468.8 230.8,470.4 230.3,472.0 229.9,473.6 229.5,475.2 229.2,476.7 229.0,478.2 228.7,479.7 228.6,481.1 228.5,482.5 228.4,483.9 228.4,485.2 228.4,486.6 228.5,487.9 228.6,489.2 228.8,490.5 229.1,491.9 229.5,493.2 230.0,494.5 230.5,495.7 231.0,496.8 231.4,497.7 231.7,498.4 231.9,498.9 238.9,496.1 238.6,495.4 238.2,494.6 237.8,493.7 237.4,492.8 237.0,491.8 236.7,490.8 236.4,489.9 236.2,489.1 236.1,488.2 236.0,487.3 235.9,486.3 235.9,485.2 235.9,484.2 236.0,483.1 236.1,481.9 236.3,480.7 236.4,479.5 236.7,478.1 237.0,476.8 237.3,475.4 237.6,474.0 238.0,472.7 238.5,471.3 239.0,470.0 239.5,468.7 240.1,467.4 240.7,466.1 241.4,464.8 242.1,463.4 242.9,462.0 243.7,460.5 244.6,458.9 245.4,457.4 246.3,455.8 247.2,454.2 248.2,452.5 249.1,450.8 250.1,449.1 251.2,447.4 252.2,445.6 253.3,443.9 254.4,442.1 255.6,440.3 256.8,438.4 258.1,436.4 259.4,434.4 260.7,432.3 261.9,430.1 263.2,427.8 264.4,425.4 265.7,422.9 266.9,420.4 268.1,417.9 269.3,415.4 270.5,413.0 271.7,410.7 272.9,408.5 274.2,406.2 275.4,404.0 276.7,401.7 278.0,399.5 279.2,397.4 280.3,395.4 281.3,393.5 282.3,391.8 283.1,390.2 284.0,388.6 284.7,387.2 285.4,385.8 286.1,384.4 286.8,383.0 287.4,381.5 287.9,380.2 288.4,378.9 288.9,377.6 289.3,376.3 289.7,375.0 290.0,373.6 290.3,372.1 290.6,370.6 290.8,368.9 291.0,367.2 291.1,365.5 291.2,363.7 291.2,361.8 291.2,359.8 291.2,357.9 291.1,355.8 291.0,353.7 290.9,351.5 290.7,349.3 290.4,347.0 290.2,344.7 289.9,342.3 289.5,339.9 289.2,337.4 288.8,334.7 288.3,331.8 287.7,328.9 287.2,325.9 286.6,323.0 286.1,320.2 285.6,317.6 285.2,315.3 284.9,313.2 284.6,311.3 284.4,309.6 284.2,308.0 283.9,306.4 283.7,305.0 283.5,303.5 283.3,302.1 283.0,300.8 282.7,299.7 282.4,298.7 282.1,297.8 281.9,297.1 281.6,296.4 281.4,295.7 281.3,295.0 281.1,294.1 280.9,293.0 280.6,291.9 280.4,290.8 280.3,289.7 280.1,288.7 279.9,287.9 279.8,287.2Z"/><path id="a16" d="M274.7,303.6 274.9,304.6 275.0,305.7 275.3,307.1 275.5,308.8 275.8,310.5 276.1,312.5 276.4,314.5 276.8,316.7 277.2,319.1 277.7,321.7 278.3,324.6 278.8,327.5 279.4,330.4 280.0,333.3 280.4,336.1 280.9,338.6 281.2,341.1 281.6,343.4 281.9,345.7 282.2,348.0 282.4,350.1 282.6,352.2 282.8,354.2 282.9,356.2 283.0,358.1 283.0,359.9 283.0,361.7 283.0,363.4 282.9,365.0 282.8,366.5 282.7,368.0 282.5,369.4 282.3,370.7 282.1,371.9 281.8,372.9 281.5,374.0 281.2,375.0 280.8,376.1 280.4,377.2 279.9,378.5 279.4,379.7 278.8,381.0 278.2,382.2 277.6,383.5 276.9,384.9 276.1,386.4 275.2,388.0 274.3,389.7 273.3,391.6 272.2,393.5 271.1,395.6 269.8,397.8 268.6,400.1 267.3,402.4 266.0,404.7 264.7,407.1 263.5,409.5 262.3,412.0 261.1,414.5 259.8,417.0 258.6,419.4 257.5,421.8 256.3,424.2 255.1,426.3 253.9,428.4 252.8,430.3 251.5,432.3 250.3,434.2 249.1,436.0 247.9,437.9 246.7,439.7 245.6,441.6 244.5,443.4 243.5,445.2 242.5,447.0 241.5,448.7 240.5,450.4 239.6,452.0 238.7,453.7 237.8,455.3 237.0,456.8 236.2,458.3 235.4,459.7 234.6,461.2 233.9,462.7 233.1,464.2 232.5,465.7 231.8,467.2 231.3,468.8 230.8,470.4 230.3,472.0 229.9,473.6 229.5,475.2 229.2,476.7 228.9,478.2 228.7,479.7 228.6,481.1 228.4,482.5 228.4,483.9 228.3,485.2 228.4,486.6 228.4,487.9 228.6,489.2 228.8,490.5 229.1,491.9 229.5,493.2 230.0,494.5 230.5,495.7 230.9,496.8 231.4,497.7 231.7,498.4 231.9,499.0 238.9,496.0 238.6,495.4 238.3,494.6 237.8,493.7 237.4,492.8 237.0,491.8 236.7,490.8 236.4,489.9 236.2,489.1 236.1,488.2 236.0,487.3 236.0,486.3 235.9,485.2 236.0,484.2 236.0,483.1 236.1,481.9 236.3,480.7 236.5,479.5 236.7,478.2 237.0,476.8 237.3,475.4 237.6,474.0 238.1,472.7 238.5,471.3 239.0,470.0 239.5,468.7 240.1,467.4 240.7,466.1 241.4,464.7 242.1,463.4 242.9,462.0 243.7,460.5 244.6,458.9 245.4,457.4 246.3,455.8 247.2,454.2 248.2,452.5 249.1,450.8 250.1,449.1 251.1,447.4 252.2,445.6 253.3,443.8 254.4,442.1 255.6,440.2 256.8,438.4 258.1,436.4 259.3,434.4 260.6,432.3 261.9,430.1 263.1,427.8 264.4,425.4 265.6,422.9 266.9,420.4 268.1,417.9 269.3,415.4 270.5,413.0 271.7,410.7 272.9,408.5 274.1,406.2 275.4,403.9 276.7,401.7 277.9,399.5 279.1,397.4 280.3,395.4 281.3,393.5 282.2,391.7 283.1,390.1 283.9,388.6 284.7,387.2 285.4,385.7 286.1,384.3 286.7,382.9 287.3,381.5 287.9,380.2 288.4,378.9 288.8,377.6 289.2,376.3 289.6,375.0 290.0,373.6 290.3,372.1 290.5,370.6 290.7,368.9 290.9,367.2 291.0,365.5 291.1,363.6 291.2,361.8 291.2,359.8 291.2,357.9 291.1,355.8 291.0,353.7 290.8,351.5 290.6,349.3 290.4,347.0 290.1,344.7 289.8,342.3 289.5,339.9 289.1,337.4 288.7,334.7 288.2,331.8 287.7,328.9 287.2,325.9 286.6,323.0 286.1,320.2 285.6,317.6 285.2,315.3 284.9,313.2 284.5,311.1 284.3,309.2 284.0,307.5 283.8,305.9 283.6,304.5 283.4,303.3 283.3,302.4Z"/><path id="a17" d="M287.5,344.7 287.1,343.8 286.5,342.5 285.9,341.0 285.1,339.3 284.3,337.5 283.4,335.6 282.5,333.7 281.5,331.8 280.6,330.1 279.5,328.2 278.4,326.4 277.3,324.5 276.1,322.7 274.9,320.8 273.7,319.0 272.4,317.1 271.1,315.3 269.7,313.3 268.1,311.2 266.6,309.2 265.2,307.4 263.9,305.7 262.8,304.3 261.9,303.2 261.1,303.8 261.7,305.0 262.6,306.5 263.7,308.3 264.9,310.4 266.1,312.6 267.4,314.7 268.5,316.9 269.6,318.9 270.5,320.8 271.5,322.7 272.4,324.7 273.3,326.7 274.2,328.6 275.0,330.5 275.8,332.4 276.5,334.2 277.1,336.0 277.7,337.8 278.3,339.7 278.9,341.6 279.4,343.3 279.8,344.9 280.2,346.3 280.5,347.3Z"/><path id="a18" d="M283.8,386.7 284.2,387.0 284.7,387.4 285.3,388.0 286.1,388.6 287.1,389.3 288.1,390.1 289.3,390.8 290.5,391.4 291.8,392.0 293.1,392.5 294.5,393.0 295.9,393.5 297.4,394.0 298.9,394.4 300.5,394.9 302.1,395.4 303.8,395.9 305.7,396.4 307.6,396.9 309.5,397.3 311.5,397.8 313.4,398.3 315.2,398.8 317.0,399.4 318.8,399.9 320.6,400.5 322.4,401.1 324.2,401.7 325.9,402.3 327.5,402.8 328.9,403.4 330.2,404.0 331.3,404.5 332.3,404.9 333.0,405.3 333.6,405.6 334.1,406.0 334.6,406.3 335.0,406.8 335.4,407.4 335.9,408.2 336.2,409.1 336.6,410.1 336.9,411.2 337.2,412.4 337.5,413.7 337.7,414.9 338.0,416.2 338.2,417.5 338.3,419.0 338.4,420.6 338.5,422.1 338.6,423.6 338.7,425.0 338.7,426.2 338.8,427.0 341.2,427.0 341.2,426.1 341.2,425.0 341.3,423.6 341.3,422.1 341.3,420.4 341.2,418.8 341.2,417.2 341.0,415.8 340.9,414.5 340.7,413.1 340.5,411.8 340.2,410.4 339.9,409.1 339.6,407.9 339.1,406.7 338.6,405.6 338.0,404.6 337.3,403.8 336.6,403.1 335.8,402.4 335.0,401.9 334.1,401.4 333.1,400.8 332.0,400.2 330.7,399.6 329.2,398.9 327.5,398.2 325.8,397.4 324.0,396.7 322.2,396.0 320.4,395.3 318.6,394.6 316.8,394.0 314.9,393.4 312.9,392.7 311.0,392.1 309.1,391.5 307.3,390.9 305.5,390.4 303.9,389.8 302.3,389.2 300.8,388.7 299.4,388.1 298.0,387.6 296.7,387.1 295.5,386.6 294.5,386.1 293.5,385.6 292.7,385.1 291.9,384.5 291.2,384.0 290.5,383.4 289.9,382.8 289.3,382.2 288.7,381.7 288.2,381.3Z"/><path id="a19" d="M334.8,406.7 335.3,406.7 336.1,406.7 336.9,406.7 337.9,406.7 338.9,406.7 339.9,406.7 340.8,406.6 341.6,406.5 342.3,406.4 343.0,406.1 343.5,405.8 344.0,405.5 344.5,405.2 344.8,404.9 345.1,404.7 345.3,404.6 344.7,403.4 344.4,403.5 344.1,403.7 343.7,403.9 343.3,404.1 342.8,404.2 342.4,404.4 341.9,404.4 341.4,404.5 340.8,404.4 340.0,404.3 339.1,404.1 338.2,404.0 337.3,403.8 336.4,403.6 335.7,403.4 335.2,403.3Z"/><path id="a20" d="M254.5,433.7 255.0,434.2 255.8,434.9 256.8,435.9 257.9,436.9 259.1,438.0 260.4,439.1 261.8,440.1 263.3,441.0 264.7,441.7 266.1,442.3 267.5,442.7 268.9,443.1 270.3,443.5 271.7,443.7 273.0,444.0 274.4,444.2 275.9,444.4 277.4,444.6 278.8,444.7 280.3,444.7 281.7,444.8 283.2,444.8 284.6,444.9 286.1,445.0 287.6,445.1 289.1,445.3 290.7,445.4 292.3,445.6 294.0,445.8 295.8,445.9 297.7,446.1 299.8,446.2 302.1,446.3 304.7,446.4 307.4,446.4 310.2,446.4 313.0,446.5 315.6,446.6 318.1,446.8 320.3,447.1 322.4,447.4 324.3,447.8 326.2,448.3 327.9,448.8 329.6,449.4 331.2,450.0 332.8,450.7 334.3,451.4 335.7,452.2 337.2,453.1 338.5,454.0 339.8,454.9 341.1,455.9 342.2,457.0 343.3,458.0 344.3,459.1 345.2,460.1 346.0,461.2 346.7,462.4 347.3,463.6 347.9,464.9 348.5,466.1 349.1,467.4 349.7,468.6 350.3,469.8 350.9,471.1 351.6,472.4 352.1,473.6 352.7,474.8 353.2,475.9 353.6,476.8 353.9,477.5 356.1,476.5 355.8,475.8 355.5,474.9 355.0,473.8 354.5,472.6 354.0,471.3 353.4,470.0 352.9,468.6 352.3,467.4 351.7,466.2 351.2,464.9 350.7,463.6 350.1,462.3 349.4,460.9 348.7,459.6 347.9,458.2 346.9,456.9 345.8,455.7 344.7,454.5 343.4,453.3 342.1,452.1 340.7,451.0 339.2,449.9 337.7,448.9 336.1,448.0 334.5,447.1 332.8,446.3 331.1,445.5 329.3,444.8 327.4,444.2 325.4,443.6 323.3,443.0 321.1,442.5 318.6,442.1 316.0,441.8 313.2,441.6 310.4,441.4 307.6,441.3 304.9,441.1 302.4,441.0 300.2,440.8 298.2,440.6 296.3,440.3 294.6,440.1 293.0,439.9 291.4,439.6 289.8,439.4 288.3,439.2 286.7,439.0 285.1,438.8 283.6,438.7 282.1,438.6 280.7,438.5 279.3,438.3 278.0,438.2 276.8,438.0 275.6,437.8 274.3,437.5 273.0,437.2 271.8,436.9 270.7,436.6 269.6,436.3 268.6,435.9 267.6,435.4 266.7,435.0 265.9,434.4 264.9,433.6 263.9,432.7 262.9,431.7 261.9,430.7 261.0,429.8 260.2,428.9 259.5,428.3Z"/><path id="a21" d="M345.4,460.6 346.0,460.7 346.7,461.0 347.6,461.2 348.6,461.5 349.7,461.8 350.7,462.1 351.7,462.4 352.7,462.6 353.5,462.8 354.5,463.0 355.4,463.1 356.2,463.3 357.1,463.4 357.8,463.5 358.4,463.6 358.8,463.7 359.2,462.3 358.7,462.2 358.1,462.0 357.4,461.8 356.6,461.6 355.8,461.3 355.0,461.0 354.1,460.7 353.3,460.4 352.5,460.1 351.6,459.7 350.6,459.2 349.6,458.8 348.7,458.4 347.8,458.0 347.1,457.7 346.6,457.4Z"/><path id="a22" d="M234.9,485.3 235.5,485.1 236.2,484.7 236.8,484.4 237.4,484.1 237.9,483.8 238.4,483.6 238.9,483.5 239.5,483.4 240.2,483.4 241.1,483.5 242.2,483.6 243.5,483.8 245.0,484.1 246.6,484.4 248.4,484.6 250.2,484.9 252.1,485.1 253.9,485.3 255.8,485.5 257.8,485.6 259.9,485.8 262.2,486.1 264.8,486.3 267.7,486.6 271.0,486.9 274.7,487.2 278.6,487.6 282.6,487.9 286.8,488.3 291.0,488.8 295.2,489.4 299.3,490.1 303.4,490.8 307.7,491.7 312.1,492.7 316.5,493.8 320.8,494.9 325.1,496.1 329.1,497.3 332.9,498.6 336.5,499.9 339.9,501.3 343.2,502.9 346.4,504.5 349.6,506.1 352.7,507.7 355.8,509.4 358.9,511.0 361.9,512.5 364.9,514.1 367.8,515.8 370.7,517.4 373.6,519.0 376.4,520.5 379.2,522.0 381.9,523.3 384.7,524.6 387.3,525.7 390.0,526.8 392.5,527.9 395.0,528.8 397.4,529.7 399.7,530.5 401.9,531.2 403.9,531.8 405.8,532.4 407.6,532.8 409.2,533.2 410.9,533.5 412.5,533.8 414.2,533.9 415.9,534.1 417.8,534.1 419.9,534.0 421.9,533.9 424.0,533.6 425.9,533.4 427.6,533.2 429.1,533.0 430.1,532.8 429.9,530.2 428.8,530.2 427.3,530.4 425.6,530.6 423.7,530.7 421.7,530.9 419.7,531.0 417.8,531.0 416.1,530.9 414.5,530.8 413.0,530.5 411.5,530.3 410.0,529.9 408.4,529.5 406.8,529.0 405.0,528.5 403.1,527.8 401.0,527.0 398.8,526.2 396.4,525.2 394.0,524.2 391.5,523.2 389.0,522.0 386.4,520.8 383.9,519.5 381.3,518.1 378.6,516.6 375.9,515.0 373.1,513.3 370.2,511.6 367.3,509.9 364.3,508.1 361.3,506.4 358.3,504.8 355.3,503.0 352.2,501.3 349.1,499.5 345.8,497.8 342.4,496.0 338.8,494.4 335.1,492.8 331.1,491.4 326.9,490.0 322.6,488.6 318.2,487.3 313.8,486.1 309.3,485.0 304.9,483.9 300.7,482.9 296.4,482.1 292.1,481.4 287.7,480.7 283.5,480.2 279.4,479.7 275.5,479.2 271.9,478.8 268.7,478.4 265.8,478.0 263.2,477.6 260.8,477.3 258.7,477.1 256.7,476.8 254.9,476.6 253.1,476.4 251.4,476.1 249.7,475.8 248.2,475.6 246.7,475.2 245.2,474.9 243.7,474.6 242.2,474.4 240.7,474.2 239.1,474.2 237.5,474.3 236.0,474.6 234.6,475.1 233.5,475.5 232.6,476.0 231.8,476.3 231.4,476.6 231.1,476.7Z"/><path id="a23" d="M316.3,491.1 316.7,491.6 317.2,492.2 317.8,492.8 318.4,493.6 319.1,494.4 319.7,495.2 320.3,496.0 320.9,496.7 321.4,497.4 321.9,498.2 322.4,499.0 322.9,499.8 323.4,500.6 323.8,501.3 324.1,501.8 324.4,502.3 325.6,501.7 325.4,501.2 325.2,500.6 324.9,499.8 324.6,499.0 324.3,498.0 323.9,497.1 323.5,496.2 323.1,495.3 322.7,494.5 322.2,493.5 321.7,492.6 321.2,491.7 320.7,490.8 320.3,490.0 319.9,489.3 319.7,488.9Z"/></defs>
<use href="#a2" fill="url(#lcao)" stroke="url(#lcao)" stroke-width="1.5" stroke-linejoin="round"/>
<use href="#a3" fill="#6a0515" stroke="#6a0515" stroke-width="1.5" stroke-linejoin="round"/>
<use href="#a4" fill="#6a0515" stroke="#6a0515" stroke-width="1.5" stroke-linejoin="round"/>
<use href="#a5" fill="#6a0515" stroke="#6a0515" stroke-width="1.5" stroke-linejoin="round"/>
<use href="#a6" fill="#6a0515" stroke="#6a0515" stroke-width="1.5" stroke-linejoin="round"/>
<use href="#a7" fill="#6a0515" stroke="#6a0515" stroke-width="1.5" stroke-linejoin="round"/>
<use href="#a8" fill="#6a0515" stroke="#6a0515" stroke-width="1.5" stroke-linejoin="round"/>
<use href="#a9" fill="#6a0515" stroke="#6a0515" stroke-width="1.5" stroke-linejoin="round"/>
<use href="#a10" fill="#6a0515" stroke="#6a0515" stroke-width="1.5" stroke-linejoin="round"/>
<use href="#a11" fill="#6a0515" stroke="#6a0515" stroke-width="1.5" stroke-linejoin="round"/>
<use href="#a12" fill="#6a0515" stroke="#6a0515" stroke-width="1.5" stroke-linejoin="round"/>
<use href="#a13" fill="#6a0515" stroke="#6a0515" stroke-width="1.5" stroke-linejoin="round"/>
<use href="#a14" fill="#6a0515" stroke="#6a0515" stroke-width="1.5" stroke-linejoin="round"/>
<use href="#a15" fill="url(#rcao)" stroke="url(#rcao)" stroke-width="1.5" stroke-linejoin="round"/>
<use href="#a16" fill="#6a0515" stroke="#6a0515" stroke-width="1.5" stroke-linejoin="round"/>
<use href="#a17" fill="#6a0515" stroke="#6a0515" stroke-width="1.5" stroke-linejoin="round"/>
<use href="#a18" fill="#6a0515" stroke="#6a0515" stroke-width="1.5" stroke-linejoin="round"/>
<use href="#a19" fill="#6a0515" stroke="#6a0515" stroke-width="1.5" stroke-linejoin="round"/>
<use href="#a20" fill="#6a0515" stroke="#6a0515" stroke-width="1.5" stroke-linejoin="round"/>
<use href="#a21" fill="#6a0515" stroke="#6a0515" stroke-width="1.5" stroke-linejoin="round"/>
<use href="#a22" fill="#6a0515" stroke="#6a0515" stroke-width="1.5" stroke-linejoin="round"/>
<use href="#a23" fill="#6a0515" stroke="#6a0515" stroke-width="1.5" stroke-linejoin="round"/>
<use href="#a2" fill="url(#lcag)"/>
<use href="#a3" fill="#b8102c"/>
<use href="#a4" fill="#b8102c"/>
<use href="#a5" fill="#b8102c"/>
<use href="#a6" fill="#b8102c"/>
<use href="#a7" fill="#b8102c"/>
<use href="#a8" fill="#b8102c"/>
<use href="#a9" fill="#b8102c"/>
<use href="#a10" fill="#b8102c"/>
<use href="#a11" fill="#b8102c"/>
<use href="#a12" fill="#b8102c"/>
<use href="#a13" fill="#b8102c"/>
<use href="#a14" fill="#b8102c"/>
<use href="#a15" fill="url(#rcag)"/>
<use href="#a16" fill="#b8102c"/>
<use href="#a17" fill="#b8102c"/>
<use href="#a18" fill="#b8102c"/>
<use href="#a19" fill="#b8102c"/>
<use href="#a20" fill="#b8102c"/>
<use href="#a21" fill="#b8102c"/>
<use href="#a22" fill="#b8102c"/>
<use href="#a23" fill="#b8102c"/>
<path d="M391.0,302.0 C392.7,302.7 397.4,305.1 401.1,306.3 C404.8,307.5 409.1,308.2 413.0,309.3 C416.9,310.4 421.4,311.2 424.8,312.7 C428.2,314.2 431.5,316.2 433.7,318.1 C435.9,320.0 437.0,322.0 438.1,324.1 C439.2,326.2 440.0,328.9 440.6,331.0 C441.2,333.1 441.4,336.0 441.5,337.0" fill="none" stroke="#e04862" stroke-width="0.8" stroke-linecap="round" opacity="0.7"/>
<path d="M397.0,306.0 C398.0,307.6 400.3,311.0 403.0,315.5 C405.7,320.0 410.5,327.7 413.0,333.1 C415.5,338.5 415.9,343.8 418.0,348.0 C420.1,352.2 422.2,354.5 425.6,358.3 C429.0,362.1 434.8,366.4 438.2,370.9 C441.6,375.3 444.1,380.1 446.0,385.0 C447.9,389.9 448.5,395.0 449.5,400.0 C450.5,405.0 450.9,409.7 452.0,415.0 C453.1,420.3 454.2,426.2 456.0,432.0 C457.8,437.8 460.7,444.3 463.0,450.0 C465.3,455.7 467.8,461.0 470.0,466.0 C472.2,471.0 475.0,477.7 476.0,480.0" fill="none" stroke="#e04862" stroke-width="1.0" stroke-linecap="round" opacity="0.7"/>
<path d="M424.0,355.0 C425.3,355.8 427.9,357.3 432.0,359.5 C436.1,361.7 443.1,364.8 448.3,368.4 C453.5,372.0 459.2,376.4 463.4,381.0 C467.6,385.6 471.1,391.3 473.5,396.1 C475.9,400.9 477.1,406.4 478.0,410.0 C478.9,413.6 478.8,416.7 479.0,418.0" fill="none" stroke="#e04862" stroke-width="0.8" stroke-linecap="round" opacity="0.7"/>
<path d="M416.0,350.0 C416.2,352.0 416.8,357.7 417.2,362.0 C417.6,366.3 417.6,371.0 418.1,376.0 C418.6,381.0 419.5,387.3 420.0,392.0 C420.5,396.7 421.1,402.0 421.3,404.0" fill="none" stroke="#e04862" stroke-width="0.8" stroke-linecap="round" opacity="0.7"/>
<path d="M279.0,303.0 C279.3,305.2 280.0,310.2 281.0,316.0 C282.0,321.8 284.0,331.3 285.0,338.0 C286.0,344.7 286.8,350.7 287.0,356.0 C287.2,361.3 287.1,366.0 286.5,370.0 C285.9,374.0 285.1,376.4 283.6,380.0 C282.2,383.6 280.4,386.8 277.8,391.6 C275.2,396.4 271.4,402.8 268.2,408.9 C265.0,415.0 261.7,422.4 258.5,428.2 C255.3,434.0 251.8,438.8 248.9,443.6 C246.0,448.4 243.4,452.9 241.2,457.1 C238.9,461.3 236.8,464.8 235.4,468.6 C234.0,472.5 233.0,476.7 232.5,480.2 C232.0,483.7 232.0,486.9 232.5,489.8 C233.0,492.7 234.9,496.2 235.4,497.5" fill="none" stroke="#e04862" stroke-width="1.7" stroke-linecap="round" opacity="0.7"/>
<path d="M286.0,384.0 C287.0,384.8 289.2,387.1 292.0,388.5 C294.8,389.9 298.7,391.2 303.0,392.6 C307.3,394.0 313.1,395.4 317.8,397.0 C322.5,398.6 327.9,400.5 331.1,402.1 C334.3,403.7 335.6,404.2 337.0,406.5 C338.4,408.8 339.0,412.6 339.5,416.0 C340.0,419.4 339.9,425.2 340.0,427.0" fill="none" stroke="#e04862" stroke-width="0.8" stroke-linecap="round" opacity="0.7"/>
<path d="M257.0,431.0 C258.3,432.2 262.0,436.3 265.0,438.0 C268.0,439.7 271.4,440.3 275.0,441.0 C278.6,441.7 282.2,441.6 286.4,442.0 C290.6,442.4 294.3,443.0 300.0,443.5 C305.7,444.0 314.8,443.8 320.7,444.8 C326.6,445.8 331.0,447.5 335.2,449.7 C339.4,451.9 343.0,454.9 345.6,458.0 C348.2,461.1 349.4,464.8 351.0,468.0 C352.6,471.2 354.3,475.5 355.0,477.0" fill="none" stroke="#e04862" stroke-width="0.8" stroke-linecap="round" opacity="0.7"/>
<path d="M233.0,481.0 C234.1,480.6 236.3,478.9 239.3,478.8 C242.3,478.7 246.0,479.9 250.8,480.5 C255.6,481.1 260.0,481.5 268.2,482.5 C276.4,483.5 289.0,484.3 300.0,486.5 C311.0,488.7 324.0,492.0 334.0,495.7 C344.0,499.4 352.0,504.4 360.1,508.7 C368.2,513.0 375.8,517.9 382.9,521.4 C390.0,524.9 397.0,527.6 402.5,529.5 C408.0,531.4 411.4,532.2 416.0,532.5 C420.6,532.8 427.7,531.7 430.0,531.5" fill="none" stroke="#e04862" stroke-width="0.8" stroke-linecap="round" opacity="0.7"/>
<path d="M884.0,157.0 C882.7,155.2 880.9,143.9 880.5,140.0 C880.1,136.1 880.0,121.4 880.5,118.0 C881.0,114.6 883.7,107.4 885.0,106.0 C886.3,104.6 891.5,104.4 893.1,104.1 C894.7,103.8 899.2,103.4 900.8,103.1 C902.4,102.8 908.5,102.0 909.5,101.2 C910.5,100.4 910.4,96.5 910.4,95.4 C910.4,94.3 908.9,91.4 909.5,90.6 C910.1,89.8 914.8,87.9 916.2,87.7 C917.6,87.5 922.8,88.3 923.9,88.7 C925.0,89.1 927.2,90.8 927.7,91.5 C928.2,92.2 928.3,95.1 928.7,95.4 C929.1,95.7 930.4,94.5 931.6,94.4 C932.9,94.3 940.0,94.1 941.2,94.4 C942.5,94.7 943.9,96.7 944.1,97.3 C944.3,97.9 942.2,99.8 943.1,100.2 C944.0,100.6 950.7,101.3 952.8,101.2 C954.9,101.1 962.8,99.9 964.3,99.2 C965.8,98.5 967.6,95.2 968.2,94.4 C968.8,93.6 969.1,91.8 970.1,91.5 C971.1,91.2 976.3,91.3 977.8,91.5 C979.3,91.7 984.1,92.7 985.5,93.5 C986.9,94.3 990.8,98.0 991.3,99.2 C991.8,100.4 990.1,104.0 990.3,105.0 C990.5,106.0 992.5,107.7 993.2,108.9 C993.9,110.1 996.0,114.5 997.0,116.6 C998.0,118.7 1001.5,126.7 1002.8,130.0 C1004.1,133.3 1009.1,146.2 1010.0,150.0 C1010.9,153.8 1017.0,165.8 1012.0,168.0 C1007.0,170.2 969.8,172.7 960.0,172.0 C950.2,171.3 920.8,162.5 914.2,161.1 C907.6,159.7 896.8,158.3 893.8,157.9 C890.8,157.5 885.3,158.8 884.0,157.0Z" fill="#edd6d0" stroke="#463a3a" stroke-width="1.4" stroke-linejoin="round" />
<ellipse cx="948" cy="128" rx="34" ry="16" fill="url(#hg)" transform="rotate(-8 948 128)"/>
<ellipse cx="886.7" cy="131" rx="9.3" ry="27" fill="#fff" stroke="#463a3a" stroke-width="1.4" transform="rotate(8 886.7 131)"/>
<ellipse cx="887.2" cy="131.5" rx="5.6" ry="21.5" fill="#e2b8ae" stroke="#463a3a" stroke-width="1.1" transform="rotate(8 887.2 131.5)"/>
<path d="M928.7,95.4 C929.2,96.2 929.1,99.7 931.5,100.5 C933.9,101.3 941.2,100.2 943.1,100.2" fill="none" stroke="#463a3a" stroke-width="1.1" stroke-linecap="round" />
<path d="M972.6,141 L972.6,173 L1022.3,170 L1022.3,141 Z" fill="#edd6d0" stroke="#463a3a" stroke-width="1.4"/>
<ellipse cx="997.3" cy="140.7" rx="24.6" ry="6.9" fill="#fff" stroke="#463a3a" stroke-width="1.4"/>
<ellipse cx="997.3" cy="140.5" rx="18.2" ry="4.1" fill="#e2b8ae" stroke="#463a3a" stroke-width="1.1"/>
<path d="M837.7,178.3 C839.0,177.2 838.0,173.4 838.9,171.9 C839.8,170.4 843.4,166.4 845.3,165.5 C847.2,164.6 851.3,164.4 855.5,164.2 C859.7,164.0 875.0,163.8 881.0,163.6 C887.0,163.4 902.6,162.6 906.6,162.3 C910.6,162.0 913.7,161.6 915.5,161.1 C917.3,160.6 920.3,158.7 921.9,157.9 C923.5,157.1 927.9,154.5 929.5,154.0 C931.1,153.5 933.0,152.4 936.0,153.5 C939.0,154.6 951.9,161.0 955.0,163.0 C958.1,165.0 960.9,169.5 963.0,170.5 C965.1,171.5 968.5,171.7 972.6,171.5 C976.7,171.3 991.9,169.7 997.8,169.0 C1003.7,168.3 1017.8,166.3 1022.9,165.9 C1028.0,165.5 1038.9,165.1 1041.8,165.2 C1044.7,165.3 1046.8,165.6 1048.0,166.5 C1049.2,167.4 1051.9,171.1 1052.0,172.5 C1052.1,173.9 1050.2,177.6 1049.0,178.5 C1047.8,179.4 1043.0,179.5 1042.0,180.0 C1041.0,180.5 1039.7,182.1 1040.0,183.0 C1040.3,183.9 1044.1,186.2 1045.0,187.5 C1045.9,188.8 1047.9,192.5 1048.0,194.0 C1048.1,195.5 1046.9,199.1 1046.0,200.0 C1045.1,200.9 1040.6,200.6 1040.6,201.7 C1040.6,202.8 1044.0,207.2 1046.0,209.5 C1048.0,211.8 1055.1,218.2 1057.8,221.1 C1060.5,224.0 1066.7,230.4 1069.5,234.4 C1072.3,238.4 1080.4,250.3 1082.2,255.5 C1084.0,260.7 1084.6,274.2 1084.6,279.2 C1084.6,284.2 1083.0,294.0 1082.2,298.2 C1081.4,302.4 1077.9,311.3 1077.4,314.8 C1076.9,318.3 1077.2,324.5 1077.5,328.0 C1077.8,331.5 1079.4,340.6 1079.6,345.0 C1079.8,349.4 1079.5,360.3 1079.3,365.5 C1079.1,370.7 1078.7,383.7 1078.1,389.2 C1077.5,394.7 1075.7,407.4 1074.5,412.9 C1073.3,418.4 1069.2,430.8 1067.4,436.6 C1065.6,442.4 1060.9,456.9 1059.0,462.7 C1057.1,468.5 1053.0,481.1 1050.7,486.4 C1048.4,491.6 1042.2,503.0 1038.9,507.7 C1035.6,512.4 1026.2,522.8 1022.3,526.7 C1018.4,530.6 1009.6,538.0 1005.7,540.9 C1001.8,543.8 992.7,549.7 989.1,551.6 C985.5,553.5 978.5,556.5 974.9,557.5 C971.3,558.5 961.6,560.3 958.3,560.4 C955.0,560.5 949.4,559.6 946.4,558.7 C943.4,557.8 935.5,554.6 932.2,552.8 C928.9,551.0 921.2,545.8 917.9,543.3 C914.6,540.8 906.7,534.3 903.7,531.5 C900.7,528.7 894.9,523.9 891.9,519.6 C888.9,515.3 881.4,499.7 878.3,494.4 C875.2,489.1 867.8,479.1 865.0,474.4 C862.2,469.7 856.5,459.3 853.9,454.4 C851.3,449.5 845.1,437.4 842.8,432.2 C840.5,427.0 835.7,415.2 833.9,410.0 C832.1,404.8 828.4,392.1 827.2,387.8 C826.0,383.5 824.1,376.2 823.5,373.0 C822.9,369.8 822.3,363.3 822.0,360.0 C821.7,356.7 821.2,348.5 821.1,345.0 C821.0,341.5 821.3,334.1 821.5,330.0 C821.7,325.9 822.3,314.7 822.5,310.0 C822.7,305.3 823.1,294.7 823.3,290.0 C823.5,285.3 824.0,274.0 824.5,270.0 C825.0,266.0 826.9,258.5 827.8,256.0 C828.7,253.5 830.9,250.6 832.2,248.9 C833.5,247.2 837.6,242.8 838.9,241.1 C840.2,239.4 842.5,235.6 843.5,234.0 C844.5,232.4 846.9,228.3 847.3,227.0 C847.7,225.7 848.0,223.5 846.8,222.9 C845.6,222.3 839.4,221.8 837.0,221.5 C834.6,221.2 828.1,220.8 826.0,220.3 C823.9,219.8 820.4,218.2 819.3,217.0 C818.2,215.8 816.6,211.6 816.3,210.0 C816.0,208.4 816.1,204.2 816.6,203.0 C817.1,201.8 820.0,200.3 820.5,199.3 C821.0,198.3 820.9,195.7 821.1,194.4 C821.3,193.1 821.4,189.4 822.2,187.8 C823.0,186.2 826.0,182.2 827.8,181.1 C829.6,180.0 836.4,179.4 837.7,178.3Z" fill="#edd6d0" stroke="#463a3a" stroke-width="1.4" stroke-linejoin="round"/>
<defs><clipPath id="clipB"><path d="M837.7,178.3 C839.0,177.2 838.0,173.4 838.9,171.9 C839.8,170.4 843.4,166.4 845.3,165.5 C847.2,164.6 851.3,164.4 855.5,164.2 C859.7,164.0 875.0,163.8 881.0,163.6 C887.0,163.4 902.6,162.6 906.6,162.3 C910.6,162.0 913.7,161.6 915.5,161.1 C917.3,160.6 920.3,158.7 921.9,157.9 C923.5,157.1 927.9,154.5 929.5,154.0 C931.1,153.5 933.0,152.4 936.0,153.5 C939.0,154.6 951.9,161.0 955.0,163.0 C958.1,165.0 960.9,169.5 963.0,170.5 C965.1,171.5 968.5,171.7 972.6,171.5 C976.7,171.3 991.9,169.7 997.8,169.0 C1003.7,168.3 1017.8,166.3 1022.9,165.9 C1028.0,165.5 1038.9,165.1 1041.8,165.2 C1044.7,165.3 1046.8,165.6 1048.0,166.5 C1049.2,167.4 1051.9,171.1 1052.0,172.5 C1052.1,173.9 1050.2,177.6 1049.0,178.5 C1047.8,179.4 1043.0,179.5 1042.0,180.0 C1041.0,180.5 1039.7,182.1 1040.0,183.0 C1040.3,183.9 1044.1,186.2 1045.0,187.5 C1045.9,188.8 1047.9,192.5 1048.0,194.0 C1048.1,195.5 1046.9,199.1 1046.0,200.0 C1045.1,200.9 1040.6,200.6 1040.6,201.7 C1040.6,202.8 1044.0,207.2 1046.0,209.5 C1048.0,211.8 1055.1,218.2 1057.8,221.1 C1060.5,224.0 1066.7,230.4 1069.5,234.4 C1072.3,238.4 1080.4,250.3 1082.2,255.5 C1084.0,260.7 1084.6,274.2 1084.6,279.2 C1084.6,284.2 1083.0,294.0 1082.2,298.2 C1081.4,302.4 1077.9,311.3 1077.4,314.8 C1076.9,318.3 1077.2,324.5 1077.5,328.0 C1077.8,331.5 1079.4,340.6 1079.6,345.0 C1079.8,349.4 1079.5,360.3 1079.3,365.5 C1079.1,370.7 1078.7,383.7 1078.1,389.2 C1077.5,394.7 1075.7,407.4 1074.5,412.9 C1073.3,418.4 1069.2,430.8 1067.4,436.6 C1065.6,442.4 1060.9,456.9 1059.0,462.7 C1057.1,468.5 1053.0,481.1 1050.7,486.4 C1048.4,491.6 1042.2,503.0 1038.9,507.7 C1035.6,512.4 1026.2,522.8 1022.3,526.7 C1018.4,530.6 1009.6,538.0 1005.7,540.9 C1001.8,543.8 992.7,549.7 989.1,551.6 C985.5,553.5 978.5,556.5 974.9,557.5 C971.3,558.5 961.6,560.3 958.3,560.4 C955.0,560.5 949.4,559.6 946.4,558.7 C943.4,557.8 935.5,554.6 932.2,552.8 C928.9,551.0 921.2,545.8 917.9,543.3 C914.6,540.8 906.7,534.3 903.7,531.5 C900.7,528.7 894.9,523.9 891.9,519.6 C888.9,515.3 881.4,499.7 878.3,494.4 C875.2,489.1 867.8,479.1 865.0,474.4 C862.2,469.7 856.5,459.3 853.9,454.4 C851.3,449.5 845.1,437.4 842.8,432.2 C840.5,427.0 835.7,415.2 833.9,410.0 C832.1,404.8 828.4,392.1 827.2,387.8 C826.0,383.5 824.1,376.2 823.5,373.0 C822.9,369.8 822.3,363.3 822.0,360.0 C821.7,356.7 821.2,348.5 821.1,345.0 C821.0,341.5 821.3,334.1 821.5,330.0 C821.7,325.9 822.3,314.7 822.5,310.0 C822.7,305.3 823.1,294.7 823.3,290.0 C823.5,285.3 824.0,274.0 824.5,270.0 C825.0,266.0 826.9,258.5 827.8,256.0 C828.7,253.5 830.9,250.6 832.2,248.9 C833.5,247.2 837.6,242.8 838.9,241.1 C840.2,239.4 842.5,235.6 843.5,234.0 C844.5,232.4 846.9,228.3 847.3,227.0 C847.7,225.7 848.0,223.5 846.8,222.9 C845.6,222.3 839.4,221.8 837.0,221.5 C834.6,221.2 828.1,220.8 826.0,220.3 C823.9,219.8 820.4,218.2 819.3,217.0 C818.2,215.8 816.6,211.6 816.3,210.0 C816.0,208.4 816.1,204.2 816.6,203.0 C817.1,201.8 820.0,200.3 820.5,199.3 C821.0,198.3 820.9,195.7 821.1,194.4 C821.3,193.1 821.4,189.4 822.2,187.8 C823.0,186.2 826.0,182.2 827.8,181.1 C829.6,180.0 836.4,179.4 837.7,178.3Z"/></clipPath><radialGradient id="ivcg" cx="40%" cy="45%" r="60%"><stop offset="0" stop-color="#d99890"/><stop offset="1" stop-color="#efd6d0"/></radialGradient></defs>
<g clip-path="url(#clipB)"><path d="M837.7,178.3 C839.0,177.2 838.0,173.4 838.9,171.9 C839.8,170.4 843.4,166.4 845.3,165.5 C847.2,164.6 851.3,164.4 855.5,164.2 C859.7,164.0 875.0,163.8 881.0,163.6 C887.0,163.4 902.6,162.6 906.6,162.3 C910.6,162.0 913.7,161.6 915.5,161.1 C917.3,160.6 920.3,158.7 921.9,157.9 C923.5,157.1 927.9,154.5 929.5,154.0 C931.1,153.5 933.0,152.4 936.0,153.5 C939.0,154.6 951.9,161.0 955.0,163.0 C958.1,165.0 960.9,169.5 963.0,170.5 C965.1,171.5 968.5,171.7 972.6,171.5 C976.7,171.3 991.9,169.7 997.8,169.0 C1003.7,168.3 1017.8,166.3 1022.9,165.9 C1028.0,165.5 1038.9,165.1 1041.8,165.2 C1044.7,165.3 1046.8,165.6 1048.0,166.5 C1049.2,167.4 1051.9,171.1 1052.0,172.5 C1052.1,173.9 1050.2,177.6 1049.0,178.5 C1047.8,179.4 1043.0,179.5 1042.0,180.0 C1041.0,180.5 1039.7,182.1 1040.0,183.0 C1040.3,183.9 1044.1,186.2 1045.0,187.5 C1045.9,188.8 1047.9,192.5 1048.0,194.0 C1048.1,195.5 1046.9,199.1 1046.0,200.0 C1045.1,200.9 1040.6,200.6 1040.6,201.7 C1040.6,202.8 1044.0,207.2 1046.0,209.5 C1048.0,211.8 1055.1,218.2 1057.8,221.1 C1060.5,224.0 1066.7,230.4 1069.5,234.4 C1072.3,238.4 1080.4,250.3 1082.2,255.5 C1084.0,260.7 1084.6,274.2 1084.6,279.2 C1084.6,284.2 1083.0,294.0 1082.2,298.2 C1081.4,302.4 1077.9,311.3 1077.4,314.8 C1076.9,318.3 1077.2,324.5 1077.5,328.0 C1077.8,331.5 1079.4,340.6 1079.6,345.0 C1079.8,349.4 1079.5,360.3 1079.3,365.5 C1079.1,370.7 1078.7,383.7 1078.1,389.2 C1077.5,394.7 1075.7,407.4 1074.5,412.9 C1073.3,418.4 1069.2,430.8 1067.4,436.6 C1065.6,442.4 1060.9,456.9 1059.0,462.7 C1057.1,468.5 1053.0,481.1 1050.7,486.4 C1048.4,491.6 1042.2,503.0 1038.9,507.7 C1035.6,512.4 1026.2,522.8 1022.3,526.7 C1018.4,530.6 1009.6,538.0 1005.7,540.9 C1001.8,543.8 992.7,549.7 989.1,551.6 C985.5,553.5 978.5,556.5 974.9,557.5 C971.3,558.5 961.6,560.3 958.3,560.4 C955.0,560.5 949.4,559.6 946.4,558.7 C943.4,557.8 935.5,554.6 932.2,552.8 C928.9,551.0 921.2,545.8 917.9,543.3 C914.6,540.8 906.7,534.3 903.7,531.5 C900.7,528.7 894.9,523.9 891.9,519.6 C888.9,515.3 881.4,499.7 878.3,494.4 C875.2,489.1 867.8,479.1 865.0,474.4 C862.2,469.7 856.5,459.3 853.9,454.4 C851.3,449.5 845.1,437.4 842.8,432.2 C840.5,427.0 835.7,415.2 833.9,410.0 C832.1,404.8 828.4,392.1 827.2,387.8 C826.0,383.5 824.1,376.2 823.5,373.0 C822.9,369.8 822.3,363.3 822.0,360.0 C821.7,356.7 821.2,348.5 821.1,345.0 C821.0,341.5 821.3,334.1 821.5,330.0 C821.7,325.9 822.3,314.7 822.5,310.0 C822.7,305.3 823.1,294.7 823.3,290.0 C823.5,285.3 824.0,274.0 824.5,270.0 C825.0,266.0 826.9,258.5 827.8,256.0 C828.7,253.5 830.9,250.6 832.2,248.9 C833.5,247.2 837.6,242.8 838.9,241.1 C840.2,239.4 842.5,235.6 843.5,234.0 C844.5,232.4 846.9,228.3 847.3,227.0 C847.7,225.7 848.0,223.5 846.8,222.9 C845.6,222.3 839.4,221.8 837.0,221.5 C834.6,221.2 828.1,220.8 826.0,220.3 C823.9,219.8 820.4,218.2 819.3,217.0 C818.2,215.8 816.6,211.6 816.3,210.0 C816.0,208.4 816.1,204.2 816.6,203.0 C817.1,201.8 820.0,200.3 820.5,199.3 C821.0,198.3 820.9,195.7 821.1,194.4 C821.3,193.1 821.4,189.4 822.2,187.8 C823.0,186.2 826.0,182.2 827.8,181.1 C829.6,180.0 836.4,179.4 837.7,178.3Z" fill="none" stroke="#d8a69e" stroke-width="10" opacity="0.3" filter="url(#blur4)"/></g>
<g clip-path="url(#clipB)">
<ellipse cx="925" cy="196" rx="68" ry="15" fill="url(#hg)"/>
<ellipse cx="925" cy="196" rx="45" ry="9" fill="url(#hg)"/>
<ellipse cx="880" cy="410" rx="35" ry="75" fill="url(#hg)"/>
<ellipse cx="945" cy="430" rx="25" ry="90" fill="url(#hg)"/>
<ellipse cx="1015" cy="430" rx="40" ry="90" fill="url(#hg)"/>
<ellipse cx="960" cy="500" rx="50" ry="40" fill="url(#hg)" opacity="0.6"/>
<ellipse cx="1050" cy="285" rx="20" ry="25" fill="url(#hg)"/>
<ellipse cx="870" cy="270" rx="25" ry="22" fill="url(#hg)"/>
<ellipse cx="976" cy="290" rx="32" ry="10" fill="url(#sh)"/>
</g>
<path d="M837.7,178.3 C842.8,178.2 856.8,178.0 868.3,177.6 C879.8,177.2 893.9,176.4 906.6,175.7 C919.4,175.0 936.3,173.8 944.8,173.2 C953.3,172.6 953.0,172.2 957.6,171.9 C962.2,171.6 970.1,171.6 972.6,171.5" fill="none" stroke="#463a3a" stroke-width="1.4" stroke-linecap="round" />
<path d="M820.0,197.8 C822.0,197.6 827.9,197.1 832.2,196.7 C836.5,196.3 843.0,195.6 845.6,195.6 C848.2,195.6 847.4,196.5 847.8,196.7" fill="none" stroke="#463a3a" stroke-width="1.2" stroke-linecap="round" />
<path d="M874.4,225.6 C876.6,226.2 881.9,228.2 887.8,228.9 C893.7,229.6 902.6,230.4 910.0,230.0 C917.4,229.6 923.9,228.4 932.2,226.7 C940.5,225.0 952.3,222.0 960.0,220.0 C967.7,218.0 975.3,215.5 978.4,214.6" fill="none" stroke="#463a3a" stroke-width="1.4" stroke-linecap="round" />
<path d="M990.0,209.0 C992.3,208.6 998.5,207.2 1004.0,206.5 C1009.5,205.8 1018.0,205.0 1022.9,204.6 C1027.8,204.2 1031.6,204.3 1033.3,204.2" fill="none" stroke="#463a3a" stroke-width="1.4" stroke-linecap="round" />
<path d="M999.0,188.2 C996.9,187.8 1001.1,186.6 1004.0,186.0 C1006.9,185.4 1012.2,184.9 1016.6,184.6 C1021.0,184.3 1026.9,183.9 1030.5,184.0 C1034.1,184.1 1037.2,184.7 1038.0,185.4 C1038.8,186.1 1039.1,187.5 1035.5,188.0 C1031.9,188.5 1022.7,188.6 1016.6,188.6 C1010.5,188.6 1001.1,188.6 999.0,188.2Z" fill="#fff" stroke="#463a3a" stroke-width="1.1" stroke-linejoin="round" />
<ellipse cx="1046" cy="172.4" rx="5.2" ry="6.9" fill="#b98078" stroke="#4a302c" stroke-width="1.5"/>
<ellipse cx="1046.8" cy="172.4" rx="2.6" ry="3.8" fill="#f2cabd"/>
<ellipse cx="1041.4" cy="194.4" rx="5.2" ry="6.9" fill="#b98078" stroke="#4a302c" stroke-width="1.5"/>
<ellipse cx="1042.2" cy="194.4" rx="2.6" ry="3.8" fill="#f2cabd"/>
<ellipse cx="950" cy="162.6" rx="22.3" ry="4.8" fill="#fff" stroke="#463a3a" stroke-width="1.4" transform="rotate(18 950 162.6)"/>
<ellipse cx="950.5" cy="162.8" rx="17" ry="2.6" fill="#e2b8ae" stroke="#463a3a" stroke-width="1.1" transform="rotate(18 950.5 162.8)"/>
<path d="M913,240 Q922,252 925.6,265 Q929,248 940,233 Q928,236 925,246 Q919,240 913,240Z" fill="#dba59d" opacity="0.6"/>
<path d="M912.2,238.9 C913.7,240.8 918.9,246.3 921.1,250.0 C923.3,253.7 924.9,258.1 925.6,261.1 C926.4,264.1 925.6,266.7 925.6,267.8" fill="none" stroke="#463a3a" stroke-width="1.2" stroke-linecap="round" />
<path d="M941.1,232.2 C939.6,234.0 934.8,239.2 932.2,243.3 C929.6,247.4 926.7,254.5 925.6,256.7" fill="none" stroke="#463a3a" stroke-width="1.2" stroke-linecap="round" />
<ellipse cx="974" cy="264" rx="30" ry="29" fill="url(#sh)"/>
<circle cx="969.5" cy="259.5" r="28" fill="#fff" stroke="#463a3a" stroke-width="1.4"/>
<circle cx="972.5" cy="260" r="23" fill="url(#ivcg)" stroke="#463a3a" stroke-width="1.3"/>
<path d="M1008.7,255.5 C1008.3,257.5 1008.0,263.8 1006.4,267.4 C1004.8,271.0 1000.4,275.3 999.2,276.9" fill="none" stroke="#463a3a" stroke-width="1.2" stroke-linecap="round" />
<path d="M1030.0,260.3 C1029.6,262.7 1029.3,270.1 1027.7,274.5 C1026.1,278.9 1024.3,282.8 1020.6,286.4 C1016.9,289.9 1007.8,294.2 1005.2,295.8" fill="none" stroke="#463a3a" stroke-width="1.2" stroke-linecap="round" />
<defs><path id="b1" d="M819.1,296.1 819.6,297.0 820.2,298.2 821.0,299.7 821.9,301.4 823.0,303.2 824.1,305.1 825.4,307.0 826.8,308.7 828.2,310.2 829.6,311.7 831.2,313.1 832.8,314.5 834.5,315.9 836.3,317.1 838.1,318.3 840.0,319.5 842.0,320.5 844.1,321.4 846.2,322.3 848.3,323.0 850.4,323.7 852.6,324.3 854.7,325.0 856.9,325.6 859.3,326.2 861.6,326.8 863.9,327.2 866.2,327.6 868.5,328.1 870.8,328.6 873.1,329.2 875.4,330.0 878.0,331.0 880.8,332.2 883.7,333.5 886.6,335.0 889.5,336.4 892.3,337.9 895.0,339.3 897.3,340.6 899.4,341.8 901.3,342.9 903.0,344.0 904.6,345.1 906.1,346.1 907.5,347.1 908.8,348.2 910.0,349.2 911.2,350.3 912.2,351.2 913.1,352.2 913.9,353.0 914.6,353.9 915.3,354.9 915.8,355.9 916.3,357.0 916.8,358.2 917.1,359.5 917.4,360.9 917.6,362.5 917.8,364.2 917.9,366.0 918.1,368.1 918.4,370.3 918.6,372.6 918.9,375.2 919.1,377.9 919.3,380.8 919.6,383.7 919.9,386.7 920.1,389.6 920.4,392.4 920.8,395.3 921.2,398.1 921.6,401.0 922.0,403.9 922.4,406.7 922.8,409.4 923.2,412.1 923.4,414.6 923.6,417.0 923.7,419.3 923.8,421.7 923.8,424.0 923.8,426.2 923.9,428.3 924.0,430.4 924.3,432.4 924.6,434.4 925.1,436.3 925.6,438.1 926.1,439.7 926.6,441.3 927.1,442.6 927.5,443.7 927.8,444.5 931.0,443.5 930.7,442.6 930.4,441.5 929.9,440.1 929.5,438.7 929.0,437.1 928.6,435.4 928.2,433.7 927.9,432.0 927.8,430.2 927.7,428.2 927.7,426.1 927.7,423.9 927.7,421.6 927.7,419.3 927.7,416.8 927.6,414.2 927.4,411.6 927.1,408.9 926.8,406.1 926.4,403.3 926.1,400.4 925.7,397.6 925.4,394.7 925.2,392.0 924.9,389.2 924.7,386.3 924.5,383.3 924.4,380.4 924.2,377.5 924.0,374.8 923.8,372.1 923.6,369.7 923.5,367.6 923.3,365.6 923.2,363.7 923.1,361.9 922.9,360.1 922.6,358.4 922.2,356.7 921.7,355.0 921.0,353.4 920.2,351.9 919.4,350.6 918.5,349.4 917.4,348.2 916.4,347.0 915.2,345.9 914.0,344.8 912.7,343.6 911.3,342.4 909.8,341.2 908.2,340.0 906.5,338.8 904.6,337.6 902.6,336.3 900.5,335.0 898.1,333.6 895.5,332.1 892.6,330.6 889.7,329.0 886.7,327.4 883.7,325.9 880.7,324.6 878.0,323.4 875.3,322.4 872.6,321.6 870.1,321.0 867.7,320.4 865.4,320.0 863.2,319.5 861.1,319.0 859.1,318.4 857.0,317.7 854.9,317.0 852.8,316.3 850.9,315.7 849.0,314.9 847.2,314.2 845.6,313.4 844.0,312.5 842.4,311.6 840.9,310.5 839.5,309.4 838.1,308.2 836.7,307.0 835.5,305.8 834.3,304.5 833.2,303.3 832.3,302.0 831.3,300.6 830.4,299.0 829.6,297.4 828.8,295.7 828.0,294.3 827.4,292.9 826.9,291.9Z"/><path id="b2" d="M858.6,323.3 859.1,324.1 859.6,325.3 860.3,326.5 861.0,327.9 861.8,329.4 862.4,330.9 863.0,332.4 863.5,333.8 863.8,335.2 864.1,336.7 864.4,338.2 864.6,339.8 864.7,341.5 864.9,343.2 865.0,345.0 865.1,346.7 865.3,348.7 865.4,350.8 865.5,353.0 865.6,355.3 865.7,357.4 865.7,359.4 865.8,361.0 865.8,362.2 867.6,362.2 867.6,361.0 867.7,359.4 867.8,357.4 868.0,355.3 868.1,353.0 868.2,350.8 868.2,348.6 868.3,346.7 868.3,344.9 868.3,343.1 868.3,341.3 868.3,339.6 868.3,337.9 868.1,336.2 868.0,334.5 867.7,332.8 867.3,331.1 866.8,329.3 866.2,327.6 865.5,325.9 864.9,324.4 864.3,323.0 863.9,321.9 863.6,321.1Z"/><path id="b3" d="M902.2,335.0 902.8,334.6 903.4,334.0 904.2,333.3 905.1,332.6 906.0,331.9 906.9,331.2 907.7,330.6 908.4,330.1 909.0,329.8 909.7,329.5 910.4,329.2 911.0,329.0 911.7,328.8 912.3,328.6 912.8,328.5 913.2,328.4 912.8,326.6 912.4,326.7 911.9,326.7 911.3,326.8 910.6,326.9 909.8,327.0 909.0,327.2 908.1,327.4 907.2,327.7 906.3,328.1 905.3,328.6 904.2,329.2 903.2,329.8 902.2,330.4 901.2,330.9 900.5,331.3 900.0,331.6Z"/><path id="b4" d="M817.4,341.9 817.4,342.5 817.4,343.2 817.3,344.3 817.2,345.6 817.2,347.0 817.3,348.6 817.6,350.3 818.0,352.0 818.7,353.7 819.4,355.5 820.3,357.2 821.3,359.0 822.3,360.8 823.3,362.6 824.3,364.3 825.2,365.9 826.2,367.5 827.2,368.9 828.2,370.3 829.2,371.6 830.1,372.9 831.0,374.2 831.8,375.6 832.5,377.1 833.2,378.7 833.8,380.5 834.4,382.5 834.9,384.5 835.5,386.6 836.0,388.6 836.5,390.7 837.0,392.8 837.5,394.7 837.9,396.6 838.3,398.6 838.7,400.6 839.1,402.6 839.6,404.6 840.1,406.6 840.8,408.5 841.5,410.4 842.2,412.2 843.1,414.0 843.9,415.8 844.9,417.5 845.8,419.1 846.8,420.7 847.9,422.2 849.0,423.6 850.3,424.9 851.5,426.1 852.8,427.2 854.0,428.2 855.1,429.1 856.1,430.1 857.0,431.0 857.7,432.0 858.4,433.1 859.1,434.0 859.6,435.0 860.1,436.0 860.6,437.1 861.0,438.2 861.3,439.3 861.6,440.4 861.8,441.7 861.9,443.0 862.0,444.4 862.1,445.8 862.2,447.3 862.3,448.8 862.6,450.2 862.9,451.6 863.2,453.0 863.5,454.4 863.9,455.9 864.3,457.3 864.8,458.7 865.5,460.2 866.2,461.6 867.2,463.2 868.4,464.8 869.7,466.4 871.1,468.0 872.5,469.5 873.7,470.8 874.7,471.9 875.4,472.8 876.8,471.6 876.1,470.8 875.1,469.6 873.9,468.2 872.6,466.7 871.3,465.1 870.1,463.5 869.0,462.0 868.2,460.6 867.5,459.2 867.0,457.9 866.6,456.6 866.2,455.2 865.9,453.9 865.7,452.5 865.4,451.1 865.2,449.8 865.0,448.4 864.9,447.1 864.9,445.7 864.8,444.3 864.8,442.8 864.7,441.4 864.6,439.9 864.3,438.5 863.9,437.2 863.5,436.0 863.0,434.8 862.5,433.6 861.9,432.4 861.2,431.3 860.5,430.1 859.6,429.0 858.6,427.8 857.5,426.6 856.3,425.5 855.2,424.5 854.0,423.4 852.9,422.3 851.9,421.2 850.9,420.0 850.1,418.6 849.2,417.1 848.4,415.6 847.6,414.0 846.8,412.3 846.1,410.6 845.4,408.8 844.8,407.1 844.3,405.4 843.9,403.6 843.6,401.7 843.2,399.8 842.9,397.8 842.6,395.8 842.2,393.7 841.8,391.6 841.3,389.6 840.9,387.5 840.4,385.4 839.9,383.2 839.4,381.1 838.9,379.0 838.2,376.9 837.5,374.9 836.7,373.1 835.8,371.4 834.8,369.8 833.9,368.4 832.9,367.0 832.0,365.7 831.2,364.3 830.4,362.9 829.5,361.3 828.6,359.6 827.7,357.9 826.8,356.1 825.9,354.5 825.2,352.9 824.6,351.4 824.2,350.2 823.9,349.1 823.8,348.0 823.8,346.9 823.8,345.9 823.9,344.8 824.0,343.8 824.1,342.9 824.2,342.1Z"/><path id="b5" d="M839.3,380.9 840.3,381.6 841.8,382.5 843.5,383.5 845.3,384.6 847.3,385.9 849.3,387.1 851.1,388.3 852.8,389.4 854.3,390.4 855.8,391.5 857.3,392.6 858.8,393.7 860.2,394.8 861.6,395.9 862.8,396.9 864.0,397.8 865.1,398.7 866.1,399.5 866.9,400.2 867.7,400.8 868.4,401.5 869.2,402.2 869.9,403.1 870.7,404.0 871.6,405.2 872.6,406.6 873.6,408.2 874.6,409.8 875.5,411.3 876.3,412.7 877.1,413.9 877.6,414.8 879.0,414.0 878.5,413.1 877.9,411.9 877.1,410.4 876.3,408.8 875.4,407.1 874.5,405.4 873.5,403.9 872.7,402.6 871.9,401.5 871.1,400.5 870.3,399.7 869.6,398.9 868.8,398.1 867.9,397.3 867.0,396.5 866.0,395.6 864.8,394.5 863.6,393.4 862.3,392.3 860.9,391.1 859.5,389.9 858.0,388.6 856.6,387.4 855.0,386.2 853.4,385.0 851.6,383.7 849.7,382.3 847.8,380.9 846.0,379.7 844.3,378.5 843.0,377.6 841.9,376.9Z"/><path id="b6" d="M871.0,402.8 871.5,402.5 872.3,402.1 873.3,401.7 874.3,401.2 875.4,400.7 876.4,400.3 877.2,399.9 877.7,399.6 877.3,398.4 876.7,398.5 875.8,398.7 874.8,399.0 873.7,399.3 872.5,399.6 871.5,399.8 870.7,400.1 870.0,400.2Z"/><path id="b7" d="M863.0,438.4 863.7,438.1 864.7,437.6 865.8,437.1 867.1,436.5 868.4,435.9 869.6,435.4 870.5,435.0 871.2,434.6 870.8,433.4 870.0,433.6 869.0,433.8 867.7,434.1 866.4,434.5 865.0,434.8 863.8,435.1 862.7,435.4 862.0,435.6Z"/></defs>
<use href="#b1" fill="#6a0515" stroke="#6a0515" stroke-width="1.5" stroke-linejoin="round"/>
<use href="#b2" fill="#6a0515" stroke="#6a0515" stroke-width="1.5" stroke-linejoin="round"/>
<use href="#b3" fill="#6a0515" stroke="#6a0515" stroke-width="1.5" stroke-linejoin="round"/>
<use href="#b4" fill="#6a0515" stroke="#6a0515" stroke-width="1.5" stroke-linejoin="round"/>
<circle cx="820.8" cy="342" r="3.38" fill="#6a0515" stroke="#6a0515" stroke-width="1.5"/>
<use href="#b5" fill="#6a0515" stroke="#6a0515" stroke-width="1.5" stroke-linejoin="round"/>
<use href="#b6" fill="#6a0515" stroke="#6a0515" stroke-width="1.5" stroke-linejoin="round"/>
<use href="#b7" fill="#6a0515" stroke="#6a0515" stroke-width="1.5" stroke-linejoin="round"/>
<use href="#b1" fill="#b8102c"/>
<use href="#b2" fill="#b8102c"/>
<use href="#b3" fill="#b8102c"/>
<use href="#b4" fill="#b8102c"/>
<circle cx="820.8" cy="342" r="3.38" fill="#b8102c"/>
<use href="#b5" fill="#b8102c"/>
<use href="#b6" fill="#b8102c"/>
<use href="#b7" fill="#b8102c"/>
<path d="M823.0,294.0 C824.2,296.0 826.8,302.3 830.0,306.0 C833.2,309.7 837.3,313.3 842.0,316.0 C846.7,318.7 852.2,320.2 858.0,322.0 C863.8,323.8 869.9,324.1 876.7,326.7 C883.5,329.3 893.0,334.4 898.9,337.8 C904.8,341.2 908.6,344.0 912.0,347.0 C915.4,350.0 917.5,352.2 919.0,356.0 C920.5,359.8 920.4,364.0 921.0,370.0 C921.6,376.0 922.0,384.8 922.8,392.2 C923.5,399.6 925.0,407.7 925.5,414.4 C926.0,421.1 925.5,427.3 926.1,432.2 C926.8,437.1 928.9,442.0 929.4,444.0" fill="none" stroke="#e04862" stroke-width="0.8" stroke-linecap="round" opacity="0.7"/>
<path d="M861.1,322.2 C861.9,324.1 864.7,329.2 865.6,333.3 C866.5,337.4 866.5,341.9 866.7,346.7 C866.9,351.5 866.7,359.6 866.7,362.2" fill="none" stroke="#e04862" stroke-width="0.8" stroke-linecap="round" opacity="0.7"/>
<path d="M820.8,342.0 C820.8,343.5 819.9,347.4 821.1,351.1 C822.3,354.8 825.5,360.2 827.8,364.4 C830.1,368.5 833.1,371.4 835.0,376.0 C836.9,380.6 838.1,386.9 839.4,392.2 C840.7,397.5 841.1,403.0 842.8,407.8 C844.5,412.6 846.8,417.4 849.4,421.1 C852.0,424.8 856.1,427.0 858.3,430.0 C860.5,433.0 861.9,435.6 862.8,438.9 C863.7,442.2 863.2,446.3 863.9,450.0 C864.6,453.7 865.2,457.4 867.2,461.1 C869.2,464.8 874.6,470.4 876.1,472.2" fill="none" stroke="#e04862" stroke-width="0.8" stroke-linecap="round" opacity="0.7"/>
<defs><path id="b8" d="M827.3,252.6 827.1,253.3 826.6,254.1 826.1,255.1 825.5,256.3 824.9,257.6 824.4,259.0 823.9,260.5 823.6,262.0 823.5,263.5 823.6,264.9 823.7,266.3 823.9,267.7 824.1,269.1 824.3,270.4 824.4,271.8 824.4,273.3 824.3,275.0 824.1,276.9 823.8,278.9 823.5,281.1 823.2,283.2 823.0,285.3 822.8,287.3 822.8,289.1 822.9,290.7 823.2,292.2 823.6,293.5 824.0,294.6 824.5,295.6 824.8,296.3 825.1,296.8 825.2,297.2 830.8,294.8 830.5,294.2 830.1,293.5 829.8,292.9 829.4,292.2 829.1,291.5 828.8,290.7 828.6,289.8 828.4,288.7 828.3,287.4 828.4,285.7 828.5,283.7 828.6,281.6 828.8,279.4 828.9,277.3 829.0,275.2 829.0,273.3 828.9,271.5 828.7,269.9 828.4,268.4 828.1,267.0 827.9,265.7 827.7,264.5 827.6,263.4 827.6,262.4 827.7,261.4 828.0,260.2 828.4,259.0 828.8,257.8 829.3,256.6 829.8,255.6 830.2,254.7 830.5,254.0Z"/><path id="b9" d="M840.3,308.7 840.2,309.9 840.1,311.5 840.0,313.4 839.9,315.5 839.7,317.7 839.7,320.0 839.6,322.3 839.6,324.4 839.7,326.4 839.8,328.4 840.0,330.4 840.2,332.3 840.4,334.3 840.6,336.3 840.9,338.3 841.3,340.3 841.6,342.3 842.1,344.2 842.6,346.2 843.1,348.1 843.6,350.0 844.1,351.9 844.7,353.9 845.2,355.9 845.7,358.1 846.2,360.6 846.8,363.1 847.3,365.7 847.8,368.1 848.3,370.3 848.7,372.1 849.0,373.5 851.0,373.1 850.8,371.7 850.5,369.9 850.2,367.7 849.8,365.2 849.4,362.6 849.0,360.0 848.6,357.5 848.2,355.3 847.9,353.2 847.5,351.2 847.0,349.2 846.6,347.2 846.3,345.3 845.9,343.5 845.6,341.6 845.3,339.7 845.2,337.8 845.0,335.9 844.9,333.9 844.8,332.0 844.7,330.1 844.7,328.2 844.7,326.3 844.8,324.4 844.9,322.5 845.0,320.3 845.3,318.1 845.5,316.0 845.8,313.9 846.0,312.0 846.2,310.5 846.3,309.3Z"/><path id="b10" d="M912.0,321.9 912.6,322.6 913.4,323.5 914.2,324.4 915.2,325.5 916.1,326.6 917.0,327.8 917.8,329.0 918.5,330.2 919.2,331.5 919.8,332.9 920.4,334.4 921.0,336.0 921.5,337.7 922.1,339.3 922.5,341.1 923.0,342.8 923.4,344.6 923.8,346.4 924.1,348.3 924.4,350.2 924.6,352.2 924.9,354.1 925.1,356.1 925.4,358.1 925.6,360.0 925.8,361.8 926.0,363.7 926.1,365.5 926.3,367.4 926.4,369.3 926.6,371.3 926.7,373.4 926.7,375.5 926.8,377.7 926.8,380.0 926.8,382.3 926.8,384.7 926.8,387.2 926.9,389.7 927.0,392.3 927.2,395.0 927.5,397.8 927.8,400.6 928.1,403.5 928.4,406.4 928.7,409.3 929.1,412.0 929.4,414.6 929.7,417.0 929.9,419.5 930.2,421.8 930.5,424.1 930.8,426.4 931.1,428.5 931.4,430.5 931.6,432.4 931.9,434.1 932.1,435.8 932.3,437.4 932.5,438.8 932.7,440.2 932.9,441.5 933.1,442.7 933.3,443.9 933.5,444.9 933.6,445.8 933.7,446.6 933.8,447.4 934.0,448.2 934.2,449.0 934.6,449.8 935.0,450.6 935.7,451.5 936.5,452.3 937.3,453.2 938.2,454.0 939.1,454.7 939.9,455.4 940.6,455.9 941.0,456.3 942.4,454.9 941.9,454.4 941.3,453.8 940.5,453.1 939.7,452.4 938.8,451.6 938.1,450.8 937.4,450.1 937.0,449.4 936.6,448.8 936.4,448.2 936.3,447.6 936.1,447.0 936.0,446.3 936.0,445.5 935.9,444.6 935.7,443.5 935.5,442.4 935.4,441.2 935.2,439.9 935.1,438.5 934.9,437.0 934.7,435.5 934.6,433.8 934.4,432.0 934.2,430.1 934.0,428.1 933.7,426.0 933.5,423.8 933.3,421.5 933.1,419.1 932.9,416.7 932.6,414.2 932.4,411.6 932.2,408.9 931.9,406.1 931.7,403.2 931.4,400.3 931.2,397.5 931.1,394.7 931.0,392.1 930.9,389.6 930.9,387.1 930.9,384.7 931.0,382.4 931.1,380.0 931.1,377.7 931.1,375.5 931.1,373.2 931.1,371.1 931.0,369.1 930.9,367.1 930.8,365.2 930.7,363.3 930.6,361.4 930.4,359.5 930.2,357.5 930.1,355.6 929.9,353.6 929.7,351.6 929.5,349.5 929.2,347.5 928.9,345.5 928.6,343.5 928.2,341.6 927.8,339.7 927.3,337.9 926.8,336.0 926.3,334.3 925.7,332.5 925.1,330.8 924.4,329.2 923.7,327.6 922.8,326.0 921.8,324.5 920.8,323.1 919.8,321.7 918.8,320.5 917.9,319.5 917.2,318.7 916.8,318.1Z"/><path id="b11" d="M933.2,443.6 933.1,444.6 933.1,446.0 933.0,447.7 932.9,449.6 932.9,451.4 932.8,453.1 932.8,454.5 932.7,455.5 934.1,455.7 934.2,454.7 934.4,453.3 934.7,451.6 935.0,449.7 935.2,447.9 935.5,446.2 935.7,444.8 935.8,443.8Z"/><path id="b12" d="M841.8,340.9 842.4,341.5 843.4,342.4 844.5,343.5 845.6,344.7 846.8,345.8 847.9,346.9 848.9,347.8 849.5,348.5 850.5,347.5 849.9,346.8 849.1,345.8 848.2,344.6 847.2,343.3 846.1,342.0 845.2,340.8 844.4,339.8 843.8,339.1Z"/><path id="b13" d="M820.5,295.9 820.9,296.3 821.3,296.8 821.9,297.4 822.6,298.1 823.5,299.0 824.4,299.9 825.4,300.8 826.5,301.7 827.6,302.7 828.8,303.8 830.2,305.0 831.7,306.3 833.3,307.6 835.0,308.8 836.8,310.1 838.6,311.1 840.4,312.0 842.0,312.8 843.7,313.4 845.5,314.0 847.3,314.6 849.2,315.0 851.3,315.5 853.6,315.9 856.1,316.2 858.8,316.5 861.7,316.8 864.6,317.0 867.6,317.2 870.6,317.4 873.5,317.6 876.3,317.8 879.1,318.0 882.0,318.2 885.0,318.4 887.8,318.6 890.6,318.9 893.3,319.1 895.9,319.4 898.2,319.7 900.3,320.1 902.3,320.5 904.2,321.0 906.0,321.5 907.8,322.1 909.6,322.6 911.4,323.2 913.2,323.8 915.0,324.3 916.6,324.8 918.3,325.3 919.9,325.8 921.5,326.3 923.2,326.9 924.9,327.4 926.7,328.0 928.6,328.5 930.5,329.0 932.3,329.5 934.2,329.9 936.1,330.4 938.1,331.0 940.1,331.5 942.2,332.2 944.3,332.9 946.6,333.8 949.0,334.7 951.5,335.7 954.0,336.7 956.6,337.7 959.3,338.7 962.1,339.6 964.9,340.5 967.8,341.4 970.8,342.3 973.9,343.2 977.0,344.0 980.0,344.8 982.8,345.5 985.6,346.1 988.1,346.6 990.5,346.9 992.8,347.2 994.9,347.5 997.1,347.7 999.2,347.8 1001.3,347.9 1003.4,348.0 1005.6,348.1 1007.8,348.2 1010.0,348.3 1012.2,348.3 1014.4,348.3 1016.7,348.2 1018.9,348.1 1021.1,347.9 1023.4,347.7 1025.6,347.4 1027.8,347.1 1030.1,346.8 1032.3,346.4 1034.5,346.0 1036.7,345.5 1039.0,344.9 1041.2,344.4 1043.5,343.7 1045.8,343.0 1048.2,342.3 1050.4,341.5 1052.6,340.7 1054.8,339.8 1056.7,339.0 1058.6,338.0 1060.4,337.0 1062.0,335.9 1063.5,334.9 1064.9,333.8 1066.2,332.9 1067.4,331.9 1068.6,331.1 1069.9,330.3 1071.3,329.4 1072.6,328.5 1073.9,327.7 1075.1,327.0 1076.2,326.3 1077.1,325.7 1077.8,325.3 1075.0,320.9 1074.3,321.4 1073.4,321.9 1072.4,322.6 1071.1,323.3 1069.8,324.1 1068.5,325.0 1067.1,325.8 1065.8,326.7 1064.4,327.6 1063.0,328.6 1061.7,329.6 1060.4,330.5 1059.0,331.5 1057.6,332.4 1056.1,333.2 1054.5,334.0 1052.7,334.8 1050.7,335.6 1048.6,336.3 1046.5,337.0 1044.2,337.7 1042.0,338.3 1039.8,338.9 1037.6,339.5 1035.5,339.9 1033.4,340.4 1031.3,340.8 1029.1,341.1 1027.0,341.4 1024.9,341.7 1022.8,341.9 1020.7,342.1 1018.6,342.2 1016.5,342.3 1014.4,342.3 1012.3,342.3 1010.2,342.3 1008.0,342.2 1005.9,342.1 1003.8,342.0 1001.7,341.8 999.6,341.7 997.6,341.5 995.6,341.3 993.5,341.1 991.4,340.8 989.2,340.4 986.8,339.9 984.3,339.3 981.5,338.6 978.6,337.9 975.7,337.0 972.7,336.1 969.7,335.2 966.9,334.3 964.1,333.4 961.6,332.5 959.0,331.5 956.5,330.5 954.0,329.5 951.5,328.4 949.1,327.4 946.8,326.5 944.4,325.6 942.2,324.8 940.1,324.2 938.0,323.5 936.1,323.0 934.2,322.4 932.4,321.9 930.6,321.4 928.9,320.8 927.2,320.3 925.5,319.7 923.9,319.1 922.3,318.6 920.7,318.0 919.1,317.4 917.3,316.8 915.6,316.2 913.8,315.7 912.1,315.1 910.3,314.4 908.4,313.8 906.4,313.2 904.3,312.6 902.0,312.0 899.6,311.5 897.0,311.0 894.3,310.7 891.5,310.3 888.6,310.0 885.7,309.7 882.8,309.4 879.9,309.1 877.1,308.8 874.3,308.5 871.3,308.2 868.3,307.9 865.4,307.7 862.5,307.4 859.9,307.1 857.4,306.7 855.2,306.3 853.3,305.9 851.5,305.5 850.0,305.1 848.6,304.6 847.3,304.1 846.1,303.6 844.8,303.0 843.6,302.3 842.3,301.5 841.1,300.6 839.8,299.5 838.4,298.4 837.1,297.2 835.8,296.0 834.6,294.9 833.5,293.9 832.6,293.0 831.8,292.2 831.0,291.5 830.4,290.7 829.8,290.1 829.2,289.5 828.7,288.9 828.3,288.5Z"/></defs>
<use href="#b8" fill="#0f2260" stroke="#0f2260" stroke-width="1.5" stroke-linejoin="round"/>
<use href="#b9" fill="#0f2260" stroke="#0f2260" stroke-width="1.5" stroke-linejoin="round"/>
<use href="#b10" fill="#0f2260" stroke="#0f2260" stroke-width="1.5" stroke-linejoin="round"/>
<use href="#b11" fill="#0f2260" stroke="#0f2260" stroke-width="1.5" stroke-linejoin="round"/>
<use href="#b12" fill="#0f2260" stroke="#0f2260" stroke-width="1.5" stroke-linejoin="round"/>
<use href="#b13" fill="#0f2260" stroke="#0f2260" stroke-width="1.5" stroke-linejoin="round"/>
<use href="#b8" fill="#25489c"/>
<use href="#b9" fill="#25489c"/>
<use href="#b10" fill="#25489c"/>
<use href="#b11" fill="#25489c"/>
<use href="#b12" fill="#25489c"/>
<use href="#b13" fill="#25489c"/>
<path d="M843.3,309.0 C843.1,311.6 842.2,319.2 842.2,324.4 C842.2,329.6 842.5,334.8 843.3,340.0 C844.0,345.2 845.6,350.1 846.7,355.6 C847.8,361.2 849.5,370.4 850.0,373.3" fill="none" stroke="#5f86cf" stroke-width="0.8" stroke-linecap="round" opacity="0.7"/>
<path d="M914.4,320.0 C915.5,321.5 919.2,325.2 921.1,328.9 C923.0,332.6 924.5,337.4 925.6,342.2 C926.7,347.0 927.2,352.6 927.8,357.8 C928.3,363.0 928.7,367.6 928.9,373.3 C929.1,379.0 928.6,385.4 929.0,392.2 C929.4,399.0 930.3,407.7 931.0,414.4 C931.7,421.1 932.4,427.3 933.0,432.2 C933.6,437.1 934.0,440.7 934.5,443.7 C935.0,446.7 934.8,448.0 936.0,450.0 C937.2,452.0 940.8,454.7 941.7,455.6" fill="none" stroke="#5f86cf" stroke-width="0.8" stroke-linecap="round" opacity="0.7"/>
<path d="M824.4,292.2 C825.3,293.1 827.2,295.4 830.0,297.8 C832.8,300.2 837.0,304.5 841.1,306.7 C845.2,308.9 848.5,310.0 854.4,311.1 C860.3,312.2 869.3,312.6 876.7,313.3 C884.1,314.1 892.6,314.5 898.9,315.6 C905.2,316.7 909.6,318.5 914.4,320.0 C919.2,321.5 923.0,322.9 927.8,324.4 C932.6,325.9 937.4,326.9 943.3,328.9 C949.2,330.9 956.0,334.1 963.1,336.5 C970.2,338.9 979.5,341.6 986.2,343.0 C993.0,344.4 997.8,344.7 1003.6,345.0 C1009.4,345.3 1015.1,345.5 1020.9,345.0 C1026.7,344.5 1032.5,343.6 1038.3,342.2 C1044.1,340.8 1050.8,338.7 1055.6,336.5 C1060.4,334.3 1063.7,331.1 1067.2,328.9 C1070.7,326.7 1074.9,324.1 1076.4,323.1" fill="none" stroke="#5f86cf" stroke-width="1.1" stroke-linecap="round" opacity="0.7"/>
<defs><path id="b14" d="M874.9,307.4 875.3,307.0 875.7,306.5 876.2,305.9 876.8,305.3 877.4,304.6 878.0,304.0 878.6,303.4 879.2,303.0 879.9,302.6 880.6,302.1 881.4,301.7 882.3,301.3 883.3,300.9 884.3,300.4 885.3,300.0 886.3,299.5 887.4,299.0 888.6,298.5 889.8,297.9 891.0,297.4 892.2,296.8 893.3,296.4 894.2,296.0 894.9,295.7 893.9,293.1 893.2,293.4 892.3,293.7 891.2,294.0 889.9,294.4 888.6,294.8 887.3,295.3 886.0,295.7 884.9,296.1 883.9,296.4 882.9,296.7 881.8,297.0 880.8,297.4 879.8,297.7 878.8,298.1 877.8,298.5 876.8,299.0 875.8,299.6 874.9,300.3 874.0,301.0 873.2,301.6 872.5,302.3 871.9,302.8 871.5,303.3 871.1,303.6Z"/><path id="b15" d="M881.5,300.1 881.5,299.4 881.4,298.5 881.4,297.3 881.3,296.1 881.3,294.8 881.2,293.7 881.2,292.7 881.2,292.0 879.8,292.0 879.7,292.6 879.6,293.6 879.4,294.7 879.2,295.9 879.0,297.2 878.8,298.3 878.6,299.2 878.5,299.9Z"/><path id="b16" d="M1075.4,321.9 1074.5,322.5 1073.5,323.4 1072.2,324.4 1070.7,325.5 1069.2,326.7 1067.7,327.9 1066.2,329.1 1064.7,330.2 1063.3,331.2 1062.0,332.3 1060.7,333.4 1059.4,334.4 1058.1,335.4 1056.8,336.3 1055.4,337.3 1053.8,338.2 1052.0,339.1 1050.1,340.1 1048.0,341.0 1045.9,342.0 1043.8,342.9 1041.6,343.7 1039.4,344.4 1037.4,345.1 1035.4,345.6 1033.3,346.1 1031.3,346.5 1029.2,346.8 1027.1,347.1 1024.9,347.3 1022.8,347.6 1020.6,347.8 1018.5,348.0 1016.4,348.2 1014.3,348.4 1012.1,348.5 1010.0,348.7 1007.9,348.8 1005.8,348.8 1003.7,348.8 1001.5,348.8 999.3,348.8 997.0,348.6 994.8,348.5 992.6,348.4 990.4,348.2 988.4,348.0 986.5,347.8 984.8,347.6 983.3,347.4 981.8,347.2 980.5,347.0 979.3,346.7 978.0,346.4 976.7,346.0 975.4,345.6 974.1,345.1 972.8,344.5 971.5,343.8 970.1,343.0 968.6,342.2 967.0,341.4 965.3,340.7 963.5,340.2 961.5,339.7 959.2,339.4 956.8,339.1 954.4,338.9 952.1,338.7 950.0,338.5 948.3,338.4 947.0,338.3 946.8,340.3 948.1,340.5 949.8,340.7 951.9,341.0 954.1,341.3 956.5,341.7 958.8,342.1 960.9,342.5 962.7,343.0 964.2,343.6 965.6,344.3 967.0,345.1 968.3,345.9 969.7,346.8 971.0,347.7 972.5,348.5 974.0,349.2 975.5,349.7 976.9,350.2 978.3,350.6 979.7,351.0 981.1,351.3 982.6,351.6 984.1,351.9 985.9,352.2 987.8,352.5 989.9,352.9 992.0,353.2 994.3,353.5 996.6,353.8 998.9,354.0 1001.3,354.2 1003.5,354.4 1005.7,354.5 1007.9,354.5 1010.2,354.6 1012.4,354.6 1014.6,354.5 1016.8,354.5 1019.0,354.3 1021.2,354.2 1023.4,354.1 1025.6,353.9 1027.8,353.7 1030.0,353.5 1032.3,353.2 1034.6,352.9 1036.9,352.4 1039.2,351.9 1041.6,351.3 1043.9,350.5 1046.3,349.7 1048.7,348.8 1051.0,347.9 1053.3,347.0 1055.4,346.0 1057.4,345.0 1059.3,344.0 1061.1,343.0 1062.7,341.9 1064.2,340.8 1065.6,339.8 1067.0,338.8 1068.3,337.8 1069.7,336.8 1071.1,335.8 1072.7,334.7 1074.3,333.5 1075.9,332.4 1077.4,331.3 1078.7,330.3 1079.8,329.5 1080.6,328.9Z"/><path id="b17" d="M1022.8,345.7 1023.1,346.5 1023.6,347.6 1024.1,348.8 1024.7,350.1 1025.2,351.5 1025.7,352.9 1026.1,354.2 1026.3,355.5 1026.3,356.9 1026.2,358.6 1026.0,360.4 1025.7,362.2 1025.4,364.0 1025.1,365.6 1024.9,367.0 1024.7,368.0 1026.3,368.4 1026.6,367.4 1027.0,366.1 1027.5,364.5 1028.0,362.8 1028.5,360.9 1029.0,359.0 1029.3,357.2 1029.5,355.5 1029.5,353.8 1029.2,352.1 1028.9,350.4 1028.5,348.8 1028.1,347.4 1027.7,346.1 1027.4,345.1 1027.2,344.3Z"/><path id="b18" d="M976.1,339.6 975.6,338.9 974.9,337.9 974.1,336.9 973.2,335.7 972.2,334.4 971.3,333.2 970.5,332.0 969.8,330.9 969.2,329.9 968.6,329.0 968.0,328.0 967.5,327.2 967.0,326.3 966.6,325.4 966.2,324.5 965.8,323.6 965.6,322.6 965.3,321.6 965.2,320.6 965.0,319.5 964.9,318.4 964.9,317.3 964.8,316.2 964.8,315.1 964.8,313.9 964.9,312.5 965.1,311.2 965.2,309.8 965.4,308.4 965.5,307.2 965.7,306.2 965.8,305.4 964.0,305.2 963.9,305.9 963.7,306.9 963.4,308.1 963.1,309.4 962.8,310.8 962.6,312.2 962.3,313.6 962.2,314.9 962.1,316.1 962.0,317.3 962.0,318.5 962.0,319.7 962.1,320.9 962.2,322.1 962.3,323.3 962.6,324.4 962.9,325.6 963.2,326.7 963.6,327.8 964.1,328.8 964.6,329.9 965.1,330.9 965.6,332.0 966.2,333.1 966.9,334.3 967.6,335.6 968.5,337.0 969.3,338.3 970.1,339.6 970.8,340.8 971.4,341.7 971.9,342.4Z"/><path id="b19" d="M971.4,346.4 971.1,347.3 970.7,348.4 970.2,349.8 969.6,351.4 969.0,353.1 968.4,354.8 967.9,356.4 967.5,357.9 967.2,359.3 967.0,360.5 966.8,361.7 966.6,363.0 966.5,364.2 966.5,365.5 966.5,366.8 966.6,368.2 966.7,369.6 966.9,371.1 967.1,372.6 967.4,374.2 967.7,375.8 968.1,377.4 968.5,379.1 969.0,380.9 969.5,382.9 970.2,384.9 971.0,386.9 971.7,388.9 972.4,390.9 973.1,393.0 973.7,395.0 974.2,397.0 974.5,399.1 974.9,401.3 975.1,403.5 975.3,405.9 975.5,408.2 975.6,410.6 975.7,412.9 975.7,415.3 975.7,417.6 975.6,419.9 975.5,422.4 975.3,424.8 975.1,427.3 975.0,429.7 974.9,432.1 975.0,434.4 975.1,436.5 975.4,438.5 975.8,440.4 976.2,442.2 976.6,443.9 977.0,445.5 977.4,447.2 977.7,448.9 978.1,450.6 978.4,452.4 978.7,454.2 979.1,455.9 979.4,457.7 979.7,459.4 980.0,461.2 980.3,462.9 980.6,464.8 980.8,466.7 981.0,468.8 981.2,470.8 981.4,472.7 981.6,474.5 981.7,475.9 981.8,477.0 984.8,476.8 984.7,475.7 984.6,474.2 984.6,472.5 984.5,470.6 984.3,468.5 984.2,466.4 984.1,464.4 983.9,462.5 983.7,460.7 983.5,458.9 983.2,457.1 983.0,455.3 982.7,453.5 982.4,451.7 982.1,449.9 981.9,448.1 981.6,446.3 981.3,444.6 980.9,442.9 980.6,441.2 980.3,439.6 980.1,437.9 979.9,436.1 979.8,434.2 979.9,432.2 980.0,430.0 980.3,427.7 980.6,425.3 980.9,422.9 981.1,420.4 981.3,417.8 981.5,415.3 981.5,412.9 981.5,410.4 981.5,408.0 981.4,405.5 981.3,403.1 981.2,400.6 980.9,398.2 980.6,395.8 980.2,393.4 979.6,391.1 979.0,388.8 978.3,386.6 977.6,384.6 977.0,382.6 976.5,380.8 976.0,379.1 975.7,377.4 975.4,375.8 975.1,374.3 974.9,372.9 974.7,371.5 974.6,370.2 974.5,369.0 974.4,367.8 974.4,366.7 974.4,365.7 974.5,364.8 974.6,363.9 974.8,363.0 975.0,362.1 975.2,361.1 975.5,360.1 975.9,358.9 976.3,357.5 976.9,356.0 977.5,354.5 978.2,353.0 978.7,351.6 979.2,350.4 979.6,349.6Z"/><path id="b20" d="M976.5,438.2 975.9,438.5 975.2,439.0 974.3,439.5 973.3,440.1 972.3,440.7 971.2,441.4 970.2,442.1 969.2,442.8 968.3,443.6 967.3,444.4 966.3,445.3 965.3,446.2 964.4,447.1 963.7,447.9 963.0,448.5 962.5,449.0 963.5,450.2 964.1,449.8 964.8,449.3 965.7,448.6 966.7,447.9 967.8,447.1 968.8,446.4 969.9,445.8 970.8,445.2 971.7,444.7 972.8,444.2 973.9,443.7 974.9,443.2 976.0,442.8 976.9,442.4 977.7,442.1 978.3,441.8Z"/><path id="b21" d="M1032.1,349.7 1032.1,350.7 1032.0,352.0 1031.9,353.6 1031.8,355.4 1031.8,357.2 1031.7,358.9 1031.6,360.4 1031.5,361.7 1031.4,362.7 1031.3,363.6 1031.3,364.2 1031.2,364.8 1031.2,365.2 1031.1,365.7 1031.0,366.3 1030.8,367.1 1030.5,368.1 1030.1,369.1 1029.8,370.1 1029.3,371.3 1028.9,372.4 1028.4,373.7 1027.8,374.9 1027.2,376.2 1026.5,377.5 1025.8,379.0 1024.9,380.5 1024.1,382.0 1023.2,383.6 1022.3,385.1 1021.4,386.6 1020.5,388.0 1019.7,389.3 1018.8,390.6 1018.0,391.9 1017.2,393.2 1016.4,394.4 1015.5,395.4 1014.7,396.5 1014.0,397.3 1013.1,398.1 1012.3,398.9 1011.3,399.5 1010.4,400.2 1009.5,400.7 1008.6,401.2 1007.9,401.7 1007.3,402.1 1009.1,404.9 1009.6,404.6 1010.3,404.3 1011.2,403.8 1012.2,403.2 1013.3,402.6 1014.5,401.8 1015.6,401.0 1016.6,400.1 1017.6,399.1 1018.6,398.0 1019.6,396.8 1020.5,395.6 1021.5,394.3 1022.4,393.1 1023.3,391.8 1024.3,390.4 1025.2,389.1 1026.2,387.6 1027.2,386.1 1028.2,384.5 1029.2,383.0 1030.1,381.5 1031.0,380.0 1031.8,378.6 1032.5,377.3 1033.2,375.9 1033.9,374.7 1034.4,373.4 1035.0,372.2 1035.4,371.0 1035.9,369.9 1036.2,368.9 1036.6,367.9 1036.8,367.1 1037.0,366.3 1037.1,365.6 1037.2,364.8 1037.3,364.1 1037.4,363.3 1037.5,362.3 1037.7,361.0 1037.9,359.4 1038.1,357.7 1038.3,355.9 1038.5,354.1 1038.6,352.6 1038.8,351.2 1038.9,350.3Z"/><path id="b22" d="M1009.6,401.6 1009.0,401.5 1008.3,401.3 1007.4,401.0 1006.4,400.8 1005.4,400.5 1004.5,400.2 1003.8,400.0 1003.3,399.9 1002.7,401.1 1003.2,401.4 1003.9,401.8 1004.7,402.2 1005.6,402.7 1006.5,403.2 1007.3,403.7 1008.0,404.1 1008.4,404.4Z"/><path id="b23" d="M1007.6,402.4 1007.4,403.0 1007.2,403.9 1006.9,404.9 1006.5,406.1 1006.2,407.2 1005.8,408.2 1005.6,409.1 1005.4,409.7 1006.6,410.3 1006.9,409.7 1007.4,408.9 1007.9,408.0 1008.5,406.9 1009.1,405.9 1009.6,404.9 1010.1,404.1 1010.4,403.6Z"/><path id="b24" d="M1071.0,332.4 1070.9,333.3 1070.6,334.5 1070.4,335.9 1070.1,337.6 1069.7,339.3 1069.4,341.1 1069.1,342.9 1068.9,344.6 1068.7,346.3 1068.6,348.1 1068.6,349.8 1068.5,351.5 1068.5,353.2 1068.3,354.8 1068.1,356.3 1067.7,357.7 1067.2,359.1 1066.6,360.6 1065.9,362.1 1065.1,363.6 1064.2,365.0 1063.3,366.5 1062.3,367.9 1061.3,369.2 1060.3,370.6 1059.2,371.9 1058.1,373.2 1056.9,374.5 1055.7,375.7 1054.6,376.9 1053.4,377.9 1052.4,378.8 1051.5,379.5 1050.5,380.1 1049.6,380.7 1048.6,381.1 1047.7,381.5 1046.9,381.8 1046.2,382.1 1045.7,382.4 1046.5,384.2 1047.0,384.0 1047.7,383.8 1048.5,383.5 1049.5,383.2 1050.5,382.7 1051.7,382.2 1052.8,381.6 1054.0,380.8 1055.1,379.9 1056.4,378.9 1057.7,377.8 1059.0,376.6 1060.3,375.4 1061.6,374.1 1062.9,372.7 1064.1,371.4 1065.2,370.0 1066.3,368.6 1067.3,367.1 1068.4,365.6 1069.4,364.1 1070.3,362.5 1071.1,360.8 1071.9,359.1 1072.4,357.3 1072.9,355.5 1073.1,353.7 1073.3,351.9 1073.5,350.1 1073.7,348.5 1073.8,346.9 1074.1,345.4 1074.4,343.8 1074.8,342.2 1075.2,340.4 1075.7,338.8 1076.1,337.2 1076.4,335.8 1076.7,334.6 1077.0,333.6Z"/><path id="b25" d="M1073.5,326.9 1073.5,327.8 1073.4,329.0 1073.4,330.3 1073.4,331.8 1073.4,333.5 1073.4,335.5 1073.4,337.6 1073.4,339.9 1073.4,342.6 1073.5,345.5 1073.5,348.7 1073.6,352.0 1073.6,355.4 1073.6,358.8 1073.5,362.1 1073.3,365.2 1073.0,368.2 1072.7,371.2 1072.3,374.2 1071.8,377.2 1071.3,380.2 1070.8,383.0 1070.2,385.8 1069.6,388.5 1068.9,391.1 1068.2,393.6 1067.4,396.1 1066.5,398.6 1065.6,400.9 1064.8,403.1 1063.9,405.3 1063.0,407.2 1062.2,409.0 1061.4,410.6 1060.7,412.1 1059.9,413.4 1059.1,414.7 1058.2,416.0 1057.3,417.4 1056.4,418.9 1055.4,420.4 1054.3,421.9 1053.2,423.4 1052.0,424.9 1050.9,426.4 1049.7,427.9 1048.5,429.4 1047.3,430.8 1046.0,432.2 1044.6,433.7 1043.1,435.2 1041.6,436.6 1040.2,438.0 1039.0,439.2 1037.9,440.2 1037.1,441.0 1038.9,443.0 1039.8,442.2 1040.9,441.3 1042.2,440.1 1043.7,438.8 1045.2,437.4 1046.8,435.9 1048.3,434.4 1049.7,433.0 1051.0,431.6 1052.3,430.2 1053.6,428.7 1054.9,427.2 1056.1,425.7 1057.3,424.2 1058.5,422.6 1059.6,421.1 1060.7,419.7 1061.6,418.4 1062.6,417.0 1063.5,415.7 1064.4,414.2 1065.3,412.7 1066.2,411.0 1067.2,409.2 1068.1,407.1 1069.1,405.0 1070.1,402.7 1071.1,400.3 1072.1,397.8 1073.1,395.3 1074.0,392.6 1074.8,389.9 1075.6,387.1 1076.3,384.3 1077.0,381.3 1077.7,378.3 1078.3,375.2 1078.8,372.1 1079.3,369.0 1079.7,365.8 1080.1,362.5 1080.3,359.1 1080.5,355.6 1080.6,352.1 1080.7,348.7 1080.8,345.6 1080.9,342.6 1081.0,340.1 1081.1,337.8 1081.2,335.7 1081.3,333.7 1081.3,332.0 1081.4,330.5 1081.5,329.1 1081.5,328.0 1081.5,327.1Z"/><path id="b26" d="M1062.6,410.4 1062.8,411.2 1063.2,412.4 1063.7,413.7 1064.2,415.3 1064.7,416.8 1065.2,418.2 1065.6,419.3 1065.8,420.2 1067.2,419.8 1067.0,419.0 1066.8,417.8 1066.6,416.3 1066.3,414.7 1066.0,413.2 1065.8,411.7 1065.6,410.5 1065.4,409.6Z"/><path id="b27" d="M917.2,524.9 917.5,526.1 918.0,527.6 918.5,529.5 919.2,531.6 919.8,533.7 920.4,535.8 921.0,537.7 921.6,539.4 922.0,540.9 922.4,542.2 922.8,543.5 923.2,544.7 923.6,545.9 924.0,547.0 924.4,548.1 924.8,549.2 925.3,550.3 925.8,551.5 926.3,552.6 926.8,553.6 927.3,554.6 927.7,555.4 928.1,556.1 928.3,556.6 933.7,553.8 933.4,553.2 933.0,552.6 932.5,551.8 932.0,550.9 931.5,549.9 930.9,548.9 930.4,548.0 930.0,547.0 929.5,546.0 929.1,545.0 928.7,544.0 928.2,542.9 927.8,541.7 927.3,540.5 926.8,539.2 926.2,537.8 925.6,536.2 924.9,534.3 924.2,532.2 923.4,530.1 922.7,528.1 922.0,526.3 921.4,524.8 921.0,523.7Z"/><path id="b28" d="M939.4,536.7 940.0,537.2 940.9,537.8 942.0,538.5 943.1,539.4 944.3,540.2 945.4,541.1 946.3,541.9 947.1,542.7 947.6,543.4 948.2,544.1 948.6,544.9 949.1,545.6 949.5,546.5 950.0,547.4 950.5,548.4 951.0,549.5 951.5,550.6 952.1,552.0 952.7,553.4 953.3,554.8 953.9,556.3 954.5,557.5 954.9,558.6 955.3,559.4 961.3,556.6 960.9,555.8 960.4,554.8 959.8,553.5 959.0,552.2 958.3,550.7 957.5,549.3 956.7,547.9 956.0,546.7 955.4,545.7 954.8,544.8 954.3,543.8 953.7,542.9 953.0,541.9 952.3,541.0 951.5,540.1 950.5,539.1 949.4,538.2 948.2,537.3 946.9,536.4 945.6,535.6 944.3,534.9 943.2,534.3 942.3,533.7 941.6,533.3Z"/><path id="b29" d="M948.3,526.9 948.4,527.7 948.5,529.0 948.6,530.5 948.7,532.0 948.8,533.6 948.9,535.1 949.0,536.3 949.1,537.2 953.1,536.8 953.0,535.9 952.8,534.7 952.6,533.2 952.4,531.7 952.2,530.1 952.0,528.6 951.8,527.4 951.7,526.5Z"/><path id="b30" d="M951.9,507.1 952.2,508.1 952.6,509.5 953.0,511.1 953.5,512.9 954.2,514.9 954.8,516.9 955.6,518.8 956.5,520.6 957.5,522.3 958.5,524.1 959.7,525.8 960.9,527.5 962.2,529.1 963.5,530.7 964.8,532.1 966.1,533.4 967.6,534.6 969.2,535.4 970.8,536.0 972.1,536.4 973.3,536.8 974.1,537.1 974.6,537.5 974.9,537.9 975.2,538.5 975.5,539.5 975.8,540.8 976.0,542.3 976.1,543.9 976.2,545.5 976.3,547.1 976.5,548.6 976.7,549.9 976.8,551.0 977.0,552.2 977.1,553.3 977.2,554.2 977.3,555.1 977.4,555.9 977.5,556.5 984.1,555.5 984.0,554.9 983.9,554.2 983.8,553.3 983.6,552.3 983.4,551.2 983.2,550.0 983.0,548.8 982.7,547.6 982.5,546.4 982.3,544.9 982.1,543.3 981.9,541.6 981.6,539.8 981.1,538.0 980.5,536.2 979.5,534.5 978.1,533.2 976.5,532.2 975.0,531.7 973.6,531.3 972.4,531.0 971.2,530.6 970.2,530.2 969.3,529.6 968.2,528.6 967.0,527.4 965.8,526.1 964.5,524.6 963.3,523.1 962.1,521.6 961.1,520.1 960.1,518.6 959.3,517.1 958.5,515.4 957.8,513.6 957.1,511.8 956.5,510.0 955.9,508.4 955.5,507.1 955.1,506.1Z"/><path id="b31" d="M1002.4,497.3 1001.4,498.2 1000.1,499.4 998.5,500.7 996.7,502.3 994.9,503.9 993.1,505.6 991.4,507.3 990.0,508.9 988.7,510.3 987.6,511.8 986.5,513.3 985.5,514.8 984.6,516.3 983.7,517.8 982.9,519.3 982.0,521.0 981.2,522.8 980.4,524.8 979.6,526.9 978.8,529.0 978.2,531.0 977.6,532.8 977.1,534.2 976.7,535.3 982.5,537.1 982.8,536.0 983.2,534.4 983.7,532.6 984.2,530.7 984.7,528.6 985.3,526.6 985.9,524.7 986.6,523.0 987.2,521.5 987.9,519.9 988.6,518.5 989.4,517.0 990.2,515.6 991.0,514.2 992.0,512.8 993.0,511.3 994.2,509.8 995.7,508.1 997.3,506.4 999.0,504.6 1000.6,503.0 1002.1,501.5 1003.3,500.2 1004.2,499.3Z"/></defs>
<use href="#b14" fill="#6a0515" stroke="#6a0515" stroke-width="1.5" stroke-linejoin="round"/>
<use href="#b15" fill="#6a0515" stroke="#6a0515" stroke-width="1.5" stroke-linejoin="round"/>
<use href="#b16" fill="#6a0515" stroke="#6a0515" stroke-width="1.5" stroke-linejoin="round"/>
<use href="#b17" fill="#0f2260" stroke="#0f2260" stroke-width="1.5" stroke-linejoin="round"/>
<use href="#b18" fill="#6a0515" stroke="#6a0515" stroke-width="1.5" stroke-linejoin="round"/>
<use href="#b19" fill="#6a0515" stroke="#6a0515" stroke-width="1.5" stroke-linejoin="round"/>
<use href="#b20" fill="#6a0515" stroke="#6a0515" stroke-width="1.5" stroke-linejoin="round"/>
<use href="#b21" fill="#6a0515" stroke="#6a0515" stroke-width="1.5" stroke-linejoin="round"/>
<use href="#b22" fill="#6a0515" stroke="#6a0515" stroke-width="1.5" stroke-linejoin="round"/>
<use href="#b23" fill="#6a0515" stroke="#6a0515" stroke-width="1.5" stroke-linejoin="round"/>
<use href="#b24" fill="#6a0515" stroke="#6a0515" stroke-width="1.5" stroke-linejoin="round"/>
<use href="#b25" fill="#6a0515" stroke="#6a0515" stroke-width="1.5" stroke-linejoin="round"/>
<use href="#b26" fill="#6a0515" stroke="#6a0515" stroke-width="1.5" stroke-linejoin="round"/>
<use href="#b27" fill="#6a0515" stroke="#6a0515" stroke-width="1.5" stroke-linejoin="round"/>
<use href="#b28" fill="#6a0515" stroke="#6a0515" stroke-width="1.5" stroke-linejoin="round"/>
<use href="#b29" fill="#6a0515" stroke="#6a0515" stroke-width="1.5" stroke-linejoin="round"/>
<use href="#b30" fill="#6a0515" stroke="#6a0515" stroke-width="1.5" stroke-linejoin="round"/>
<use href="#b31" fill="#6a0515" stroke="#6a0515" stroke-width="1.5" stroke-linejoin="round"/>
<use href="#b14" fill="#b8102c"/>
<use href="#b15" fill="#b8102c"/>
<use href="#b16" fill="#b8102c"/>
<use href="#b17" fill="#25489c"/>
<use href="#b18" fill="#b8102c"/>
<use href="#b19" fill="#b8102c"/>
<use href="#b20" fill="#b8102c"/>
<use href="#b21" fill="#b8102c"/>
<use href="#b22" fill="#b8102c"/>
<use href="#b23" fill="#b8102c"/>
<use href="#b24" fill="#b8102c"/>
<use href="#b25" fill="#b8102c"/>
<use href="#b26" fill="#b8102c"/>
<use href="#b27" fill="#b8102c"/>
<use href="#b28" fill="#b8102c"/>
<use href="#b29" fill="#b8102c"/>
<use href="#b30" fill="#b8102c"/>
<use href="#b31" fill="#b8102c"/>
<path d="M1078.0,325.4 C1076.2,326.8 1070.9,330.8 1067.2,333.5 C1063.5,336.2 1060.4,339.1 1055.6,341.6 C1050.8,344.1 1044.1,346.9 1038.3,348.5 C1032.5,350.1 1026.7,350.5 1020.9,351.0 C1015.1,351.5 1009.4,351.8 1003.6,351.6 C997.8,351.4 991.0,350.7 986.2,350.0 C981.4,349.3 978.6,348.8 974.7,347.4 C970.9,346.0 967.7,343.0 963.1,341.6 C958.5,340.2 949.6,339.7 946.9,339.3" fill="none" stroke="#e04862" stroke-width="0.8" stroke-linecap="round" opacity="0.7"/>
<path d="M975.5,348.0 C974.8,349.8 972.3,355.7 971.5,359.0 C970.7,362.3 970.3,364.5 970.5,368.0 C970.7,371.5 971.4,375.3 972.5,380.0 C973.6,384.7 976.4,390.5 977.4,396.4 C978.4,402.3 978.6,409.0 978.6,415.3 C978.6,421.6 977.2,428.8 977.4,434.3 C977.6,439.8 979.0,443.8 979.8,448.5 C980.6,453.2 981.5,458.0 982.1,462.7 C982.7,467.4 983.1,474.5 983.3,476.9" fill="none" stroke="#e04862" stroke-width="0.8" stroke-linecap="round" opacity="0.7"/>
<path d="M1035.5,350.0 C1035.3,352.0 1034.8,359.0 1034.5,362.0 C1034.2,365.0 1034.3,365.4 1033.5,368.0 C1032.7,370.6 1031.3,373.9 1029.5,377.4 C1027.7,380.9 1024.8,385.6 1022.4,389.2 C1020.0,392.8 1017.7,396.3 1015.3,398.7 C1012.9,401.1 1009.4,402.7 1008.2,403.5" fill="none" stroke="#e04862" stroke-width="0.8" stroke-linecap="round" opacity="0.7"/>
<path d="M1074.0,333.0 C1073.6,335.0 1072.2,340.8 1071.5,345.0 C1070.8,349.2 1071.3,354.2 1069.8,358.4 C1068.3,362.6 1065.5,366.7 1062.7,370.3 C1059.9,373.9 1056.0,377.6 1053.2,379.8 C1050.4,382.0 1047.3,382.7 1046.1,383.3" fill="none" stroke="#e04862" stroke-width="0.8" stroke-linecap="round" opacity="0.7"/>
<path d="M1077.5,327.0 C1077.5,329.2 1077.4,333.6 1077.2,340.0 C1077.0,346.4 1077.3,357.3 1076.5,365.5 C1075.7,373.7 1074.1,382.1 1072.2,389.2 C1070.3,396.3 1067.5,403.1 1065.1,408.2 C1062.7,413.3 1060.8,416.1 1058.0,420.0 C1055.2,423.9 1051.8,428.2 1048.5,431.9 C1045.2,435.6 1039.8,440.3 1038.0,442.0" fill="none" stroke="#e04862" stroke-width="0.8" stroke-linecap="round" opacity="0.7"/>
<path d="M220,101 L270,150" fill="none" stroke="#fff" stroke-width="3.6" stroke-linejoin="round" stroke-opacity="0.85"/>
<path d="M387,96 L360,186" fill="none" stroke="#fff" stroke-width="3.6" stroke-linejoin="round" stroke-opacity="0.85"/>
<path d="M150.5,176 L197,205.5" fill="none" stroke="#fff" stroke-width="3.6" stroke-linejoin="round" stroke-opacity="0.85"/>
<path d="M429,201 L350,268" fill="none" stroke="#fff" stroke-width="3.6" stroke-linejoin="round" stroke-opacity="0.85"/>
<path d="M75,280 L261,312.6" fill="none" stroke="#fff" stroke-width="3.6" stroke-linejoin="round" stroke-opacity="0.85"/>
<path d="M67,351 L285,358.5" fill="none" stroke="#fff" stroke-width="3.6" stroke-linejoin="round" stroke-opacity="0.85"/>
<path d="M80,472 L223,373" fill="none" stroke="#fff" stroke-width="3.6" stroke-linejoin="round" stroke-opacity="0.85"/>
<path d="M81,558 L258,481" fill="none" stroke="#fff" stroke-width="3.6" stroke-linejoin="round" stroke-opacity="0.85"/>
<path d="M160,599 L249,525" fill="none" stroke="#fff" stroke-width="3.6" stroke-linejoin="round" stroke-opacity="0.85"/>
<path d="M259,595 L391,443.5" fill="none" stroke="#fff" stroke-width="3.6" stroke-linejoin="round" stroke-opacity="0.85"/>
<path d="M391,598 L371.5,548" fill="none" stroke="#fff" stroke-width="3.6" stroke-linejoin="round" stroke-opacity="0.85"/>
<path d="M505.5,595 L463.5,436" fill="none" stroke="#fff" stroke-width="3.6" stroke-linejoin="round" stroke-opacity="0.85"/>
<path d="M600.4,130.2 L519.7,220.2 L394.3,270" fill="none" stroke="#fff" stroke-width="3.6" stroke-linejoin="round" stroke-opacity="0.85"/>
<path d="M600.4,251.1 L434,320.5" fill="none" stroke="#fff" stroke-width="3.6" stroke-linejoin="round" stroke-opacity="0.85"/>
<path d="M600.4,317.6 L420.4,341.8" fill="none" stroke="#fff" stroke-width="3.6" stroke-linejoin="round" stroke-opacity="0.85"/>
<path d="M600.4,433.3 L476,399.6" fill="none" stroke="#fff" stroke-width="3.6" stroke-linejoin="round" stroke-opacity="0.85"/>
<path d="M600.4,512.3 L479.6,440.4" fill="none" stroke="#fff" stroke-width="3.6" stroke-linejoin="round" stroke-opacity="0.85"/>
<path d="M865.5,70 L916.5,117.5" fill="none" stroke="#fff" stroke-width="3.6" stroke-linejoin="round" stroke-opacity="0.85"/>
<path d="M1039.5,77.5 L1000,140" fill="none" stroke="#fff" stroke-width="3.6" stroke-linejoin="round" stroke-opacity="0.85"/>
<path d="M1077.5,144 L1048.5,171.5" fill="none" stroke="#fff" stroke-width="3.6" stroke-linejoin="round" stroke-opacity="0.85"/>
<path d="M1077.5,146 L1046,194" fill="none" stroke="#fff" stroke-width="3.6" stroke-linejoin="round" stroke-opacity="0.85"/>
<path d="M1107,211 L975,256" fill="none" stroke="#fff" stroke-width="3.6" stroke-linejoin="round" stroke-opacity="0.85"/>
<path d="M1159.5,250.5 L1052,277" fill="none" stroke="#fff" stroke-width="3.6" stroke-linejoin="round" stroke-opacity="0.85"/>
<path d="M1157,320.5 L966,320.5" fill="none" stroke="#fff" stroke-width="3.6" stroke-linejoin="round" stroke-opacity="0.85"/>
<path d="M1154,398.5 L1113.3,331.5 L1078,330.5" fill="none" stroke="#fff" stroke-width="3.6" stroke-linejoin="round" stroke-opacity="0.85"/>
<path d="M1095,515 L1059,411.5" fill="none" stroke="#fff" stroke-width="3.6" stroke-linejoin="round" stroke-opacity="0.85"/>
<path d="M1000,588 L1008,452" fill="none" stroke="#fff" stroke-width="3.6" stroke-linejoin="round" stroke-opacity="0.85"/>
<path d="M888,588 L983,461.5" fill="none" stroke="#fff" stroke-width="3.6" stroke-linejoin="round" stroke-opacity="0.85"/>
<path d="M736.2,571 L908.3,472.2 L922.8,428.9" fill="none" stroke="#fff" stroke-width="3.6" stroke-linejoin="round" stroke-opacity="0.85"/>
<path d="M653.3,513.3 L889.4,446.7" fill="none" stroke="#fff" stroke-width="3.6" stroke-linejoin="round" stroke-opacity="0.85"/>
<path d="M733,429.5 L821.3,351.1" fill="none" stroke="#fff" stroke-width="3.6" stroke-linejoin="round" stroke-opacity="0.85"/>
<path d="M750.3,255.1 L827,304" fill="none" stroke="#fff" stroke-width="3.6" stroke-linejoin="round" stroke-opacity="0.85"/>
<path d="M698.2,183.4 L884,313.8" fill="none" stroke="#fff" stroke-width="3.6" stroke-linejoin="round" stroke-opacity="0.85"/>
<path d="M711.2,129.6 L861.2,260" fill="none" stroke="#fff" stroke-width="3.6" stroke-linejoin="round" stroke-opacity="0.85"/>
<path d="M220,101 L270,150" fill="none" stroke="#505050" stroke-width="1.35" stroke-linejoin="round"/>
<path d="M387,96 L360,186" fill="none" stroke="#505050" stroke-width="1.35" stroke-linejoin="round"/>
<path d="M150.5,176 L197,205.5" fill="none" stroke="#505050" stroke-width="1.35" stroke-linejoin="round"/>
<path d="M429,201 L350,268" fill="none" stroke="#505050" stroke-width="1.35" stroke-linejoin="round"/>
<path d="M75,280 L261,312.6" fill="none" stroke="#505050" stroke-width="1.35" stroke-linejoin="round"/>
<path d="M67,351 L285,358.5" fill="none" stroke="#505050" stroke-width="1.35" stroke-linejoin="round"/>
<path d="M80,472 L223,373" fill="none" stroke="#505050" stroke-width="1.35" stroke-linejoin="round"/>
<path d="M81,558 L258,481" fill="none" stroke="#505050" stroke-width="1.35" stroke-linejoin="round"/>
<path d="M160,599 L249,525" fill="none" stroke="#505050" stroke-width="1.35" stroke-linejoin="round"/>
<path d="M259,595 L391,443.5" fill="none" stroke="#505050" stroke-width="1.35" stroke-linejoin="round"/>
<path d="M391,598 L371.5,548" fill="none" stroke="#505050" stroke-width="1.35" stroke-linejoin="round"/>
<path d="M505.5,595 L463.5,436" fill="none" stroke="#505050" stroke-width="1.35" stroke-linejoin="round"/>
<path d="M600.4,130.2 L519.7,220.2 L394.3,270" fill="none" stroke="#505050" stroke-width="1.35" stroke-linejoin="round"/>
<path d="M600.4,251.1 L434,320.5" fill="none" stroke="#505050" stroke-width="1.35" stroke-linejoin="round"/>
<path d="M600.4,317.6 L420.4,341.8" fill="none" stroke="#505050" stroke-width="1.35" stroke-linejoin="round"/>
<path d="M600.4,433.3 L476,399.6" fill="none" stroke="#505050" stroke-width="1.35" stroke-linejoin="round"/>
<path d="M600.4,512.3 L479.6,440.4" fill="none" stroke="#505050" stroke-width="1.35" stroke-linejoin="round"/>
<path d="M865.5,70 L916.5,117.5" fill="none" stroke="#505050" stroke-width="1.35" stroke-linejoin="round"/>
<path d="M1039.5,77.5 L1000,140" fill="none" stroke="#505050" stroke-width="1.35" stroke-linejoin="round"/>
<path d="M1077.5,144 L1048.5,171.5" fill="none" stroke="#505050" stroke-width="1.35" stroke-linejoin="round"/>
<path d="M1077.5,146 L1046,194" fill="none" stroke="#505050" stroke-width="1.35" stroke-linejoin="round"/>
<path d="M1107,211 L975,256" fill="none" stroke="#505050" stroke-width="1.35" stroke-linejoin="round"/>
<path d="M1159.5,250.5 L1052,277" fill="none" stroke="#505050" stroke-width="1.35" stroke-linejoin="round"/>
<path d="M1157,320.5 L966,320.5" fill="none" stroke="#505050" stroke-width="1.35" stroke-linejoin="round"/>
<path d="M1154,398.5 L1113.3,331.5 L1078,330.5" fill="none" stroke="#505050" stroke-width="1.35" stroke-linejoin="round"/>
<path d="M1095,515 L1059,411.5" fill="none" stroke="#505050" stroke-width="1.35" stroke-linejoin="round"/>
<path d="M1000,588 L1008,452" fill="none" stroke="#505050" stroke-width="1.35" stroke-linejoin="round"/>
<path d="M888,588 L983,461.5" fill="none" stroke="#505050" stroke-width="1.35" stroke-linejoin="round"/>
<path d="M736.2,571 L908.3,472.2 L922.8,428.9" fill="none" stroke="#505050" stroke-width="1.35" stroke-linejoin="round"/>
<path d="M653.3,513.3 L889.4,446.7" fill="none" stroke="#505050" stroke-width="1.35" stroke-linejoin="round"/>
<path d="M733,429.5 L821.3,351.1" fill="none" stroke="#505050" stroke-width="1.35" stroke-linejoin="round"/>
<path d="M750.3,255.1 L827,304" fill="none" stroke="#505050" stroke-width="1.35" stroke-linejoin="round"/>
<path d="M698.2,183.4 L884,313.8" fill="none" stroke="#505050" stroke-width="1.35" stroke-linejoin="round"/>
<path d="M711.2,129.6 L861.2,260" fill="none" stroke="#505050" stroke-width="1.35" stroke-linejoin="round"/>
<g class="t">
<text x="0" y="17.3" class="b">A</text>
<text x="36.6" y="17.3" class="h">VIEW FROM FRONT</text>
<text x="565.8" y="17.3" class="b">B</text>
<text x="602.2" y="17.3" class="h" style="letter-spacing:-0.1px">VIEW FROM DIAPHRAGM (POSTEROINFERIOR)</text>

<text x="209.8" y="66" text-anchor="middle">Ascending</text>
<text x="209.8" y="91" text-anchor="middle">aorta</text>
<text x="382.8" y="66">Pulmonary</text>
<text x="382.8" y="91">artery</text>
<text x="49.8" y="150">Superior</text>
<text x="49.8" y="175">vena cava</text>
<text x="432.8" y="133">Left</text>
<text x="432.8" y="158">coronary</text>
<text x="432.8" y="183">artery</text>
<text x="12.8" y="260">SA nodal</text>
<text x="12.8" y="285">artery</text>
<text x="10.8" y="355">Right</text>
<text x="10.8" y="380">coronary</text>
<text x="10.8" y="405">artery</text>
<text x="22.8" y="486">Right</text>
<text x="22.8" y="511">atrium</text>
<text x="21.8" y="559">Right</text>
<text x="21.8" y="584">marginal</text>
<text x="21.8" y="609">(acute)</text>
<text x="21.8" y="634">artery</text>
<text x="121.8" y="619">Inferior</text>
<text x="121.8" y="644">vena</text>
<text x="121.8" y="669">cava</text>
<text x="225.8" y="619">Right</text>
<text x="225.8" y="644">ventricle</text>
<text x="393.8" y="619" text-anchor="middle">Descending</text>
<text x="393.8" y="644" text-anchor="middle">aorta</text>
<text x="480.8" y="619">Great</text>
<text x="480.8" y="644">cardiac</text>
<text x="480.8" y="669">vein</text>

<text x="811.8" y="69">Aorta</text>
<text x="1038.8" y="47">Superior</text>
<text x="1038.8" y="72">vena cava</text>
<text x="1081.8" y="120">Right pulmonary</text>
<text x="1081.8" y="145">veins</text>
<text x="1111.8" y="190">Inferior</text>
<text x="1111.8" y="215">vena cava</text>
<text x="1161.8" y="262">Right</text>
<text x="1161.8" y="287">atrium</text>
<text x="1158.8" y="328">AV node</text>
<text x="1158.8" y="353">artery</text>
<text x="1148.8" y="423">Right main</text>
<text x="1148.8" y="448">coronary</text>
<text x="1148.8" y="473">artery</text>
<text x="1095.8" y="536">Right</text>
<text x="1095.8" y="561">marginal</text>
<text x="1095.8" y="586">(acute)</text>
<text x="1095.8" y="611">branch</text>
<text x="970.8" y="608">Right</text>
<text x="970.8" y="633">ventricle</text>
<text x="811.8" y="607">Posterior</text>
<text x="811.8" y="632">descending</text>
<text x="811.8" y="657">branch</text>
<text x="606.8" y="130">Left atrium</text>
<text x="606.8" y="185">Coronary</text>
<text x="606.8" y="210">sinus</text>
<text x="606.8" y="257">Left circumflex</text>
<text x="606.8" y="282">branch</text>
<text x="606.8" y="327">Left anterior</text>
<text x="606.8" y="352">descending</text>
<text x="606.8" y="377">branch</text>
<text x="606.8" y="441">Left diagonal</text>
<text x="606.8" y="466">branch</text>
<text x="606.8" y="521">Left</text>
<text x="606.8" y="546">ventricle</text>
<text x="606.8" y="580">Left marginal</text>
<text x="606.8" y="605">(obtuse) branch</text>
</g>

</svg>
</body></html>
